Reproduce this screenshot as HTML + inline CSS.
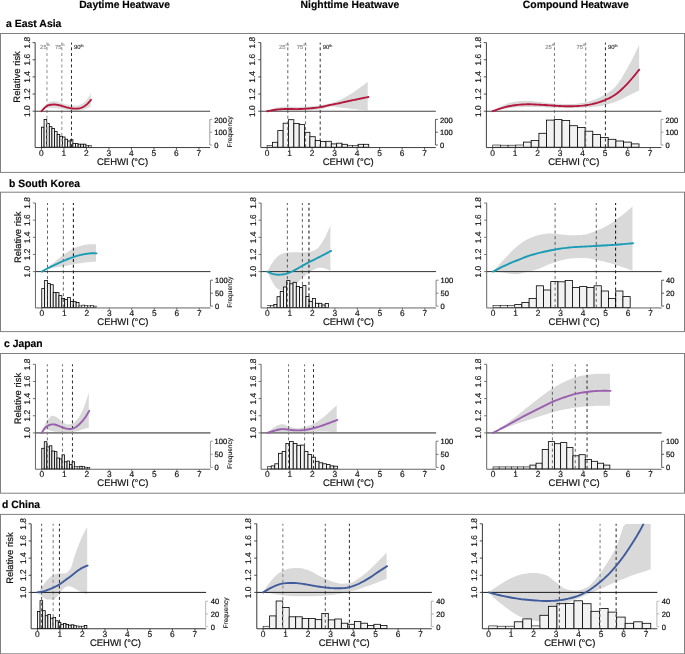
<!DOCTYPE html>
<html lang="en"><head><meta charset="utf-8"><title>Heatwave relative risk</title>
<style>html,body{margin:0;padding:0;background:#fff}svg{display:block}
.tk{font-size:84px;text-anchor:middle;fill:#111;stroke:#111;stroke-width:1.6px}
.fr{font-size:76px;fill:#111;stroke:#111;stroke-width:2.2px}
.al{font-size:96px;fill:#111;stroke:#111;stroke-width:2px}
.hd{font-size:106px;font-weight:bold;fill:#000;stroke:#000;stroke-width:1.5px}
</style>
</head><body>
<svg width="685" height="654" viewBox="0 0 685 654" font-family="'Liberation Sans', Arial, sans-serif" text-rendering="geometricPrecision">
<rect x="0" y="0" width="685" height="654" fill="#fff"/>
<text transform="translate(79.15,8.1) scale(.1)" class="hd" textLength="909" lengthAdjust="spacingAndGlyphs">Daytime Heatwave</text>
<text transform="translate(300.6,8.1) scale(.1)" class="hd" textLength="988" lengthAdjust="spacingAndGlyphs">Nighttime Heatwave</text>
<text transform="translate(522.8,8.1) scale(.1)" class="hd" textLength="1060" lengthAdjust="spacingAndGlyphs">Compound Heatwave</text>
<g id="row-a">
<text transform="translate(6.1,27.4) scale(.1)" class="hd" textLength="553" lengthAdjust="spacingAndGlyphs">a East Asia</text>
<rect x="0.5" y="33.5" width="684" height="138.9" fill="none" stroke="#808080" stroke-width="1"/>
<g id="p-a1">
<clipPath id="ca0"><rect x="35.15" y="42.6" width="175" height="104.95"/></clipPath>
<path d="M41.45,111.2 L42.29,109.67 L43.12,108.23 L43.96,106.92 L44.8,105.75 L45.63,104.76 L46.47,103.98 L47.3,103.38 L48.14,102.84 L48.98,102.35 L49.81,101.94 L50.65,101.61 L51.49,101.38 L52.32,101.27 L53.16,101.2 L53.99,101.15 L54.83,101.14 L55.67,101.21 L56.5,101.37 L57.34,101.59 L58.18,101.86 L59.01,102.15 L59.85,102.46 L60.69,102.75 L61.52,103.02 L62.36,103.27 L63.19,103.54 L64.03,103.82 L64.87,104.09 L65.7,104.34 L66.54,104.55 L67.38,104.73 L68.21,104.9 L69.05,105.05 L69.88,105.19 L70.72,105.29 L71.56,105.35 L72.39,105.4 L73.23,105.44 L74.07,105.48 L74.9,105.5 L75.74,105.51 L76.58,105.45 L77.41,105.32 L78.25,105.14 L79.08,104.91 L79.92,104.67 L80.76,104.37 L81.59,103.96 L82.43,103.45 L83.27,102.88 L84.1,102.24 L84.94,101.55 L85.77,100.71 L86.61,99.74 L87.45,98.68 L88.28,97.54 L89.12,96.25 L89.96,94.81 L90.79,93.25 L90.79,106.82 L89.96,107.23 L89.12,107.61 L88.28,107.98 L87.45,108.33 L86.61,108.67 L85.77,108.98 L84.94,109.28 L84.1,109.54 L83.27,109.81 L82.43,110.06 L81.59,110.29 L80.76,110.48 L79.92,110.61 L79.08,110.7 L78.25,110.79 L77.41,110.86 L76.58,110.91 L75.74,110.93 L74.9,110.93 L74.07,110.91 L73.23,110.87 L72.39,110.83 L71.56,110.78 L70.72,110.71 L69.88,110.61 L69.05,110.47 L68.21,110.31 L67.38,110.15 L66.54,109.99 L65.7,109.83 L64.87,109.65 L64.03,109.47 L63.19,109.3 L62.36,109.14 L61.52,109 L60.69,108.87 L59.85,108.75 L59.01,108.63 L58.18,108.52 L57.34,108.42 L56.5,108.32 L55.67,108.23 L54.83,108.16 L53.99,108.08 L53.16,108.01 L52.32,107.96 L51.49,107.96 L50.65,107.99 L49.81,108.03 L48.98,108.09 L48.14,108.16 L47.3,108.25 L46.47,108.35 L45.63,108.58 L44.8,108.94 L43.96,109.4 L43.12,109.95 L42.29,110.56 L41.45,111.2Z" fill="#dedede" clip-path="url(#ca0)"/>
<g fill="#f2f2f2" stroke="#000" stroke-width="0.8"><rect x="41.45" y="127.2" width="2.62" height="20"/><rect x="44.07" y="119.5" width="2.62" height="27.7"/><rect x="46.69" y="123.5" width="2.62" height="23.7"/><rect x="49.31" y="126.7" width="2.62" height="20.5"/><rect x="51.93" y="128.5" width="2.62" height="18.7"/><rect x="54.55" y="131.6" width="2.62" height="15.6"/><rect x="57.17" y="134.4" width="2.62" height="12.8"/><rect x="59.79" y="136.3" width="2.62" height="10.9"/><rect x="62.41" y="137" width="2.62" height="10.2"/><rect x="65.03" y="139.2" width="2.62" height="8"/><rect x="67.65" y="141" width="2.62" height="6.2"/><rect x="70.27" y="139.7" width="2.62" height="7.5"/><rect x="72.89" y="143.6" width="2.62" height="3.6"/><rect x="75.51" y="143.6" width="2.62" height="3.6"/><rect x="78.13" y="144.2" width="2.62" height="3"/><rect x="80.75" y="144.2" width="2.62" height="3"/><rect x="83.37" y="144.2" width="2.62" height="3"/></g>
<g fill="#f2f2f2" stroke="#111" stroke-width="0.6"><rect x="85.99" y="145.5" width="2.62" height="1.7"/><rect x="88.61" y="145.5" width="2.62" height="1.7"/></g>
<line x1="46.96" y1="42.6" x2="46.96" y2="147.55" stroke="#a0a0a0" stroke-width="1.2" stroke-dasharray="3 2.7" stroke-dashoffset="1"/>
<line x1="61.81" y1="42.6" x2="61.81" y2="147.55" stroke="#a0a0a0" stroke-width="1.2" stroke-dasharray="3 2.7" stroke-dashoffset="1"/>
<line x1="71.49" y1="42.6" x2="71.49" y2="147.55" stroke="#111" stroke-width="0.9" stroke-dasharray="3 2.7" stroke-dashoffset="1"/>
<text transform="translate(49.76,49.0) scale(.1)" font-size="59" fill="#888" stroke="#888" stroke-width="1.2" text-anchor="end">25<tspan font-size="37" dy="-26.0">th</tspan></text>
<text transform="translate(64.61,49.0) scale(.1)" font-size="59" fill="#888" stroke="#888" stroke-width="1.2" text-anchor="end">75<tspan font-size="37" dy="-26.0">th</tspan></text>
<text transform="translate(73.99,49.0) scale(.1)" font-size="59" fill="#222" stroke="#222" stroke-width="1.2" text-anchor="start">90<tspan font-size="37" dy="-17.0">th</tspan></text>
<line x1="35.15" y1="111.2" x2="210.15" y2="111.2" stroke="#444" stroke-width="1.05"/>
<path d="M41.45,111.2 L42.29,110.26 L43.13,109.35 L43.97,108.47 L44.81,107.65 L45.65,106.92 L46.49,106.3 L47.33,105.81 L48.16,105.44 L49,105.17 L49.84,104.96 L50.68,104.8 L51.52,104.68 L52.36,104.6 L53.2,104.55 L54.04,104.54 L54.88,104.56 L55.72,104.61 L56.56,104.7 L57.4,104.83 L58.24,105.01 L59.08,105.21 L59.92,105.44 L60.76,105.68 L61.59,105.93 L62.43,106.18 L63.27,106.44 L64.11,106.68 L64.95,106.92 L65.79,107.15 L66.63,107.37 L67.47,107.57 L68.31,107.76 L69.15,107.94 L69.99,108.1 L70.83,108.24 L71.67,108.36 L72.51,108.47 L73.35,108.56 L74.19,108.62 L75.02,108.65 L75.86,108.66 L76.7,108.64 L77.54,108.57 L78.38,108.47 L79.22,108.33 L80.06,108.13 L80.9,107.88 L81.74,107.58 L82.58,107.22 L83.42,106.79 L84.26,106.3 L85.1,105.74 L85.94,105.11 L86.78,104.4 L87.62,103.62 L88.45,102.75 L89.29,101.81 L90.13,100.83 L90.97,99.82" fill="none" stroke="#b5173f" stroke-width="1.9" stroke-linecap="round" stroke-linejoin="round" clip-path="url(#ca0)"/>
<path d="M35.15,42.6 V147.55 H210.15" fill="none" stroke="#2a2a2a" stroke-width="0.9"/>
<path d="M35.15,111.2 h-2.6 M35.15,94.05 h-2.6 M35.15,76.9 h-2.6 M35.15,59.75 h-2.6 M35.15,42.6 h-2.6 M41.45,147.55 v2.2 M63.95,147.55 v2.2 M86.45,147.55 v2.2 M108.95,147.55 v2.2 M131.45,147.55 v2.2 M153.95,147.55 v2.2 M176.45,147.55 v2.2 M198.95,147.55 v2.2" fill="none" stroke="#2a2a2a" stroke-width="0.8"/>
<text transform="translate(29.55,111.2) rotate(-90) scale(.1)" class="tk">1.0</text>
<text transform="translate(29.55,94.05) rotate(-90) scale(.1)" class="tk">1.2</text>
<text transform="translate(29.55,76.9) rotate(-90) scale(.1)" class="tk">1.4</text>
<text transform="translate(29.55,59.75) rotate(-90) scale(.1)" class="tk">1.6</text>
<text transform="translate(29.55,42.6) rotate(-90) scale(.1)" class="tk">1.8</text>
<text transform="translate(41.45,155.6) scale(.1)" class="tk">0</text>
<text transform="translate(63.95,155.6) scale(.1)" class="tk">1</text>
<text transform="translate(86.45,155.6) scale(.1)" class="tk">2</text>
<text transform="translate(108.95,155.6) scale(.1)" class="tk">3</text>
<text transform="translate(131.45,155.6) scale(.1)" class="tk">4</text>
<text transform="translate(153.95,155.6) scale(.1)" class="tk">5</text>
<text transform="translate(176.45,155.6) scale(.1)" class="tk">6</text>
<text transform="translate(198.95,155.6) scale(.1)" class="tk">7</text>
<text transform="translate(97.05,164.6) scale(.1)" class="al" textLength="510" lengthAdjust="spacingAndGlyphs">CEHWI (°C)</text>
<text transform="translate(20.25,76.9) rotate(-90) scale(.1)" class="al" style="font-size:94.5px" text-anchor="middle">Relative risk</text>
<text transform="translate(231.85,131.8) rotate(-90) scale(0.1)" font-size="66" text-anchor="middle" fill="#111" stroke="#111" stroke-width="1.2">Frequency</text>
<path d="M209.8,145 V119.4 M209.8,145 h2.4 M209.8,132.2 h2.4 M209.8,119.4 h2.4" fill="none" stroke="#888" stroke-width="0.8"/>
<text transform="translate(214.35,148.15) scale(.1)" class="fr">0</text>
<text transform="translate(214.35,135.35) scale(.1)" class="fr">100</text>
<text transform="translate(214.35,122.55) scale(.1)" class="fr">200</text>
</g>
<g id="p-a2">
<clipPath id="ca1"><rect x="260.8" y="42.6" width="175" height="104.95"/></clipPath>
<path d="M267.1,111.2 L268.81,110.43 L270.51,109.72 L272.22,109.09 L273.92,108.55 L275.63,108.05 L277.33,107.59 L279.04,107.22 L280.74,106.99 L282.45,106.86 L284.15,106.75 L285.86,106.68 L287.57,106.65 L289.27,106.66 L290.98,106.71 L292.68,106.77 L294.39,106.83 L296.09,106.87 L297.8,106.88 L299.5,106.87 L301.21,106.84 L302.91,106.81 L304.62,106.77 L306.32,106.71 L308.03,106.59 L309.74,106.43 L311.44,106.25 L313.15,106.08 L314.85,105.89 L316.56,105.67 L318.26,105.44 L319.97,105.19 L321.67,104.93 L323.38,104.65 L325.08,104.35 L326.79,104.02 L328.5,103.67 L330.2,103.28 L331.91,102.85 L333.61,102.37 L335.32,101.82 L337.02,101.23 L338.73,100.57 L340.43,99.85 L342.14,99.01 L343.84,98.08 L345.55,97.08 L347.25,96.05 L348.96,95.03 L350.67,93.97 L352.37,92.88 L354.08,91.75 L355.78,90.61 L357.49,89.44 L359.19,88.25 L360.9,87.03 L362.6,85.78 L364.31,84.51 L366.01,83.2 L367.72,81.87 L367.72,110.5 L366.01,110.35 L364.31,110.19 L362.6,110.03 L360.9,109.86 L359.19,109.68 L357.49,109.5 L355.78,109.31 L354.08,109.1 L352.37,108.89 L350.67,108.67 L348.96,108.47 L347.25,108.29 L345.55,108.12 L343.84,107.96 L342.14,107.8 L340.43,107.62 L338.73,107.42 L337.02,107.15 L335.32,106.86 L333.61,106.6 L331.91,106.42 L330.2,106.4 L328.5,106.73 L326.79,107.32 L325.08,108.03 L323.38,108.72 L321.67,109.25 L319.97,109.48 L318.26,109.58 L316.56,109.65 L314.85,109.71 L313.15,109.77 L311.44,109.83 L309.74,109.91 L308.03,110 L306.32,110.09 L304.62,110.17 L302.91,110.25 L301.21,110.31 L299.5,110.36 L297.8,110.38 L296.09,110.39 L294.39,110.39 L292.68,110.39 L290.98,110.39 L289.27,110.39 L287.57,110.39 L285.86,110.39 L284.15,110.39 L282.45,110.39 L280.74,110.39 L279.04,110.4 L277.33,110.46 L275.63,110.54 L273.92,110.64 L272.22,110.77 L270.51,110.91 L268.81,111.05 L267.1,111.2Z" fill="#d9d9d9" clip-path="url(#ca1)"/>
<g fill="#f2f2f2" stroke="#000" stroke-width="0.8"><rect x="272.45" y="142.3" width="5.35" height="4.9"/><rect x="277.8" y="130.6" width="5.35" height="16.6"/><rect x="283.15" y="123.2" width="5.35" height="24"/><rect x="288.5" y="119.7" width="5.35" height="27.5"/><rect x="293.85" y="123.5" width="5.35" height="23.7"/><rect x="299.2" y="124.4" width="5.35" height="22.8"/><rect x="304.55" y="132.3" width="5.35" height="14.9"/><rect x="309.9" y="136.7" width="5.35" height="10.5"/><rect x="315.25" y="140.5" width="5.35" height="6.7"/><rect x="320.6" y="141.6" width="5.35" height="5.6"/><rect x="325.95" y="141.3" width="5.35" height="5.9"/><rect x="331.3" y="143.9" width="5.35" height="3.3"/><rect x="336.65" y="143.2" width="5.35" height="4"/><rect x="342" y="144.3" width="5.35" height="2.9"/><rect x="358.05" y="144.3" width="5.35" height="2.9"/><rect x="363.4" y="144.3" width="5.35" height="2.9"/></g>
<g fill="#f2f2f2" stroke="#111" stroke-width="0.6"><rect x="267.1" y="145.6" width="5.35" height="1.6"/><rect x="347.35" y="145.4" width="5.35" height="1.8"/><rect x="352.7" y="145.4" width="5.35" height="1.8"/></g>
<line x1="287.8" y1="42.6" x2="287.8" y2="147.55" stroke="#555" stroke-width="0.9" stroke-dasharray="3 2.7" stroke-dashoffset="1"/>
<line x1="305.58" y1="42.6" x2="305.58" y2="147.55" stroke="#555" stroke-width="0.9" stroke-dasharray="3 2.7" stroke-dashoffset="1"/>
<line x1="320.2" y1="42.6" x2="320.2" y2="147.55" stroke="#333" stroke-width="1.0" stroke-dasharray="3 2.7" stroke-dashoffset="1"/>
<text transform="translate(288.7,49.0) scale(.1)" font-size="59" fill="#888" stroke="#888" stroke-width="1.2" text-anchor="end">25<tspan font-size="37" dy="-26.0">th</tspan></text>
<text transform="translate(306.48,49.0) scale(.1)" font-size="59" fill="#888" stroke="#888" stroke-width="1.2" text-anchor="end">75<tspan font-size="37" dy="-26.0">th</tspan></text>
<text transform="translate(322.7,49.0) scale(.1)" font-size="59" fill="#222" stroke="#222" stroke-width="1.2" text-anchor="start">90<tspan font-size="37" dy="-17.0">th</tspan></text>
<line x1="260.8" y1="111.2" x2="435.8" y2="111.2" stroke="#444" stroke-width="1.05"/>
<path d="M267.1,111.2 L268.82,110.88 L270.53,110.56 L272.25,110.26 L273.97,109.99 L275.69,109.74 L277.4,109.52 L279.12,109.34 L280.84,109.2 L282.56,109.09 L284.27,109.02 L285.99,108.99 L287.71,108.98 L289.42,109 L291.14,109.03 L292.86,109.06 L294.58,109.09 L296.29,109.1 L298.01,109.09 L299.73,109.04 L301.44,108.97 L303.16,108.88 L304.88,108.77 L306.6,108.65 L308.31,108.51 L310.03,108.37 L311.75,108.21 L313.47,108.04 L315.18,107.85 L316.9,107.64 L318.62,107.4 L320.33,107.12 L322.05,106.8 L323.77,106.45 L325.49,106.07 L327.2,105.68 L328.92,105.3 L330.64,104.92 L332.36,104.57 L334.07,104.23 L335.79,103.9 L337.51,103.56 L339.22,103.21 L340.94,102.83 L342.66,102.43 L344.38,102.03 L346.09,101.62 L347.81,101.24 L349.53,100.87 L351.25,100.52 L352.96,100.19 L354.68,99.86 L356.4,99.51 L358.11,99.16 L359.83,98.78 L361.55,98.41 L363.27,98.04 L364.98,97.69 L366.7,97.35 L368.42,97.02" fill="none" stroke="#b5173f" stroke-width="1.9" stroke-linecap="round" stroke-linejoin="round" clip-path="url(#ca1)"/>
<path d="M260.8,42.6 V147.55 H435.8" fill="none" stroke="#2a2a2a" stroke-width="0.9"/>
<path d="M260.8,111.2 h-2.6 M260.8,94.05 h-2.6 M260.8,76.9 h-2.6 M260.8,59.75 h-2.6 M260.8,42.6 h-2.6 M267.1,147.55 v2.2 M289.6,147.55 v2.2 M312.1,147.55 v2.2 M334.6,147.55 v2.2 M357.1,147.55 v2.2 M379.6,147.55 v2.2 M402.1,147.55 v2.2 M424.6,147.55 v2.2" fill="none" stroke="#2a2a2a" stroke-width="0.8"/>
<text transform="translate(255.2,111.2) rotate(-90) scale(.1)" class="tk">1.0</text>
<text transform="translate(255.2,94.05) rotate(-90) scale(.1)" class="tk">1.2</text>
<text transform="translate(255.2,76.9) rotate(-90) scale(.1)" class="tk">1.4</text>
<text transform="translate(255.2,59.75) rotate(-90) scale(.1)" class="tk">1.6</text>
<text transform="translate(255.2,42.6) rotate(-90) scale(.1)" class="tk">1.8</text>
<text transform="translate(267.1,155.6) scale(.1)" class="tk">0</text>
<text transform="translate(289.6,155.6) scale(.1)" class="tk">1</text>
<text transform="translate(312.1,155.6) scale(.1)" class="tk">2</text>
<text transform="translate(334.6,155.6) scale(.1)" class="tk">3</text>
<text transform="translate(357.1,155.6) scale(.1)" class="tk">4</text>
<text transform="translate(379.6,155.6) scale(.1)" class="tk">5</text>
<text transform="translate(402.1,155.6) scale(.1)" class="tk">6</text>
<text transform="translate(424.6,155.6) scale(.1)" class="tk">7</text>
<text transform="translate(322.7,164.6) scale(.1)" class="al" textLength="510" lengthAdjust="spacingAndGlyphs">CEHWI (°C)</text>
<path d="M435.45,145 V119.4 M435.45,145 h2.4 M435.45,132.2 h2.4 M435.45,119.4 h2.4" fill="none" stroke="#333" stroke-width="0.8"/>
<text transform="translate(440.1,148.15) scale(.1)" class="fr">0</text>
<text transform="translate(440.1,135.35) scale(.1)" class="fr">100</text>
<text transform="translate(440.1,122.55) scale(.1)" class="fr">200</text>
</g>
<g id="p-a3">
<clipPath id="ca2"><rect x="486.4" y="42.6" width="175" height="104.95"/></clipPath>
<path d="M492.7,111.2 L495.18,109.62 L497.67,108.14 L500.15,106.78 L502.63,105.55 L505.11,104.46 L507.6,103.52 L510.08,102.75 L512.56,102.16 L515.04,101.76 L517.53,101.47 L520.01,101.21 L522.49,101.02 L524.97,100.92 L527.46,100.93 L529.94,101.06 L532.42,101.26 L534.9,101.5 L537.39,101.74 L539.87,101.98 L542.35,102.27 L544.84,102.59 L547.32,102.9 L549.8,103.19 L552.28,103.43 L554.77,103.58 L557.25,103.7 L559.73,103.81 L562.21,103.91 L564.7,103.99 L567.18,104.05 L569.66,104.08 L572.14,104.06 L574.63,103.92 L577.11,103.67 L579.59,103.33 L582.07,102.93 L584.56,102.49 L587.04,102.02 L589.52,101.36 L592.01,100.55 L594.49,99.63 L596.97,98.65 L599.45,97.58 L601.94,96.37 L604.42,94.99 L606.9,93.47 L609.38,91.79 L611.87,89.89 L614.35,87.69 L616.83,85.07 L619.31,81.74 L621.8,77.84 L624.28,73.59 L626.76,69.2 L629.24,64.8 L631.73,60.14 L634.21,55.24 L636.69,50.1 L639.17,44.74 L639.17,90.45 L636.69,91.63 L634.21,92.82 L631.73,94.01 L629.24,95.2 L626.76,96.39 L624.28,97.65 L621.8,98.93 L619.31,100.16 L616.83,101.26 L614.35,102.2 L611.87,103.05 L609.38,103.81 L606.9,104.49 L604.42,105.09 L601.94,105.64 L599.45,106.13 L596.97,106.5 L594.49,106.79 L592.01,107.05 L589.52,107.27 L587.04,107.44 L584.56,107.57 L582.07,107.7 L579.59,107.81 L577.11,107.91 L574.63,107.98 L572.14,108.02 L569.66,108.03 L567.18,108.01 L564.7,107.98 L562.21,107.94 L559.73,107.89 L557.25,107.83 L554.77,107.78 L552.28,107.7 L549.8,107.57 L547.32,107.41 L544.84,107.26 L542.35,107.12 L539.87,107.03 L537.39,107 L534.9,107 L532.42,107 L529.94,107 L527.46,107 L524.97,107 L522.49,107.07 L520.01,107.19 L517.53,107.34 L515.04,107.51 L512.56,107.71 L510.08,107.97 L507.6,108.28 L505.11,108.65 L502.63,109.08 L500.15,109.54 L497.67,110.06 L495.18,110.61 L492.7,111.2Z" fill="#d9d9d9" clip-path="url(#ca2)"/>
<g fill="#f2f2f2" stroke="#000" stroke-width="0.8"><rect x="523.5" y="142.1" width="7.7" height="5.1"/><rect x="531.2" y="140.4" width="7.7" height="6.8"/><rect x="538.9" y="133.3" width="7.7" height="13.9"/><rect x="546.6" y="120.1" width="7.7" height="27.1"/><rect x="554.3" y="119.6" width="7.7" height="27.6"/><rect x="562" y="120.4" width="7.7" height="26.8"/><rect x="569.7" y="125.7" width="7.7" height="21.5"/><rect x="577.4" y="127.5" width="7.7" height="19.7"/><rect x="585.1" y="131.2" width="7.7" height="16"/><rect x="592.8" y="134.6" width="7.7" height="12.6"/><rect x="600.5" y="137.5" width="7.7" height="9.7"/><rect x="608.2" y="139.3" width="7.7" height="7.9"/><rect x="615.9" y="141" width="7.7" height="6.2"/><rect x="623.6" y="142.1" width="7.7" height="5.1"/><rect x="631.3" y="143.9" width="7.7" height="3.3"/></g>
<g fill="#f2f2f2" stroke="#111" stroke-width="0.6"><rect x="492.7" y="145" width="7.7" height="2.2"/><rect x="500.4" y="145.2" width="7.7" height="2"/><rect x="508.1" y="145.2" width="7.7" height="2"/><rect x="515.8" y="145" width="7.7" height="2.2"/></g>
<line x1="554.46" y1="42.6" x2="554.46" y2="147.55" stroke="#444" stroke-width="0.7" stroke-dasharray="3 2.7" stroke-dashoffset="1"/>
<line x1="585.74" y1="42.6" x2="585.74" y2="147.55" stroke="#444" stroke-width="0.7" stroke-dasharray="3 2.7" stroke-dashoffset="1"/>
<line x1="605.42" y1="42.6" x2="605.42" y2="147.55" stroke="#111" stroke-width="0.9" stroke-dasharray="3 2.7" stroke-dashoffset="1"/>
<text transform="translate(554.86,49.0) scale(.1)" font-size="59" fill="#888" stroke="#888" stroke-width="1.2" text-anchor="end">25<tspan font-size="37" dy="-26.0">th</tspan></text>
<text transform="translate(586.14,49.0) scale(.1)" font-size="59" fill="#888" stroke="#888" stroke-width="1.2" text-anchor="end">75<tspan font-size="37" dy="-26.0">th</tspan></text>
<text transform="translate(607.92,49.0) scale(.1)" font-size="59" fill="#222" stroke="#222" stroke-width="1.2" text-anchor="start">90<tspan font-size="37" dy="-17.0">th</tspan></text>
<line x1="486.4" y1="111.2" x2="661.4" y2="111.2" stroke="#444" stroke-width="1.05"/>
<path d="M492.7,111.2 L495.18,110.31 L497.67,109.43 L500.15,108.6 L502.63,107.83 L505.11,107.14 L507.6,106.53 L510.08,106.01 L512.56,105.56 L515.04,105.19 L517.53,104.89 L520.01,104.65 L522.49,104.48 L524.97,104.37 L527.46,104.32 L529.94,104.32 L532.42,104.37 L534.9,104.46 L537.39,104.58 L539.87,104.72 L542.35,104.88 L544.84,105.05 L547.32,105.23 L549.8,105.4 L552.28,105.57 L554.77,105.73 L557.25,105.87 L559.73,106 L562.21,106.1 L564.7,106.18 L567.18,106.22 L569.66,106.23 L572.14,106.21 L574.63,106.14 L577.11,106.03 L579.59,105.86 L582.07,105.64 L584.56,105.36 L587.04,105 L589.52,104.58 L592.01,104.08 L594.49,103.5 L596.97,102.83 L599.45,102.08 L601.94,101.24 L604.42,100.29 L606.9,99.24 L609.38,98.07 L611.87,96.73 L614.35,95.21 L616.83,93.46 L619.31,91.49 L621.8,89.3 L624.28,86.91 L626.76,84.34 L629.24,81.62 L631.73,78.75 L634.21,75.79 L636.69,72.76 L639.17,69.7" fill="none" stroke="#b5173f" stroke-width="1.9" stroke-linecap="round" stroke-linejoin="round" clip-path="url(#ca2)"/>
<path d="M486.4,42.6 V147.55 H661.4" fill="none" stroke="#2a2a2a" stroke-width="0.9"/>
<path d="M486.4,111.2 h-2.6 M486.4,94.05 h-2.6 M486.4,76.9 h-2.6 M486.4,59.75 h-2.6 M486.4,42.6 h-2.6 M492.7,147.55 v2.2 M515.2,147.55 v2.2 M537.7,147.55 v2.2 M560.2,147.55 v2.2 M582.7,147.55 v2.2 M605.2,147.55 v2.2 M627.7,147.55 v2.2 M650.2,147.55 v2.2" fill="none" stroke="#2a2a2a" stroke-width="0.8"/>
<text transform="translate(480.8,111.2) rotate(-90) scale(.1)" class="tk">1.0</text>
<text transform="translate(480.8,94.05) rotate(-90) scale(.1)" class="tk">1.2</text>
<text transform="translate(480.8,76.9) rotate(-90) scale(.1)" class="tk">1.4</text>
<text transform="translate(480.8,59.75) rotate(-90) scale(.1)" class="tk">1.6</text>
<text transform="translate(480.8,42.6) rotate(-90) scale(.1)" class="tk">1.8</text>
<text transform="translate(492.7,155.6) scale(.1)" class="tk">0</text>
<text transform="translate(515.2,155.6) scale(.1)" class="tk">1</text>
<text transform="translate(537.7,155.6) scale(.1)" class="tk">2</text>
<text transform="translate(560.2,155.6) scale(.1)" class="tk">3</text>
<text transform="translate(582.7,155.6) scale(.1)" class="tk">4</text>
<text transform="translate(605.2,155.6) scale(.1)" class="tk">5</text>
<text transform="translate(627.7,155.6) scale(.1)" class="tk">6</text>
<text transform="translate(650.2,155.6) scale(.1)" class="tk">7</text>
<text transform="translate(548.3,164.6) scale(.1)" class="al" textLength="510" lengthAdjust="spacingAndGlyphs">CEHWI (°C)</text>
<path d="M661.05,145 V119.4 M661.05,145 h2.4 M661.05,132.2 h2.4 M661.05,119.4 h2.4" fill="none" stroke="#888" stroke-width="0.8"/>
<text transform="translate(665.6,148.15) scale(.1)" class="fr">0</text>
<text transform="translate(665.6,135.35) scale(.1)" class="fr">100</text>
<text transform="translate(665.6,122.55) scale(.1)" class="fr">200</text>
</g>
</g>
<g id="row-b">
<text transform="translate(9.05,186.6) scale(.1)" class="hd" textLength="710" lengthAdjust="spacingAndGlyphs">b South Korea</text>
<rect x="0.5" y="192.2" width="684" height="139.4" fill="none" stroke="#808080" stroke-width="1"/>
<g id="p-b1">
<clipPath id="cb0"><rect x="35.45" y="203" width="175" height="104.95"/></clipPath>
<path d="M41.75,271.6 L42.67,270.96 L43.59,270.31 L44.51,269.65 L45.43,268.99 L46.35,268.31 L47.26,267.63 L48.18,266.94 L49.1,266.25 L50.02,265.54 L50.94,264.83 L51.86,264.11 L52.78,263.39 L53.7,262.66 L54.62,261.94 L55.54,261.21 L56.46,260.46 L57.37,259.7 L58.29,258.92 L59.21,258.14 L60.13,257.38 L61.05,256.62 L61.97,255.9 L62.89,255.21 L63.81,254.56 L64.73,253.92 L65.65,253.29 L66.56,252.67 L67.48,252.06 L68.4,251.47 L69.32,250.91 L70.24,250.36 L71.16,249.84 L72.08,249.35 L73,248.89 L73.92,248.46 L74.84,248.03 L75.76,247.62 L76.67,247.22 L77.59,246.84 L78.51,246.49 L79.43,246.16 L80.35,245.88 L81.27,245.63 L82.19,245.42 L83.11,245.23 L84.03,245.04 L84.95,244.87 L85.87,244.72 L86.78,244.59 L87.7,244.49 L88.62,244.42 L89.54,244.37 L90.46,244.32 L91.38,244.28 L92.3,244.24 L93.22,244.2 L94.14,244.18 L95.06,244.17 L95.97,244.16 L95.97,261.57 L95.06,261.63 L94.14,261.69 L93.22,261.76 L92.3,261.84 L91.38,261.92 L90.46,262 L89.54,262.08 L88.62,262.17 L87.7,262.27 L86.78,262.37 L85.87,262.48 L84.95,262.6 L84.03,262.72 L83.11,262.84 L82.19,262.96 L81.27,263.08 L80.35,263.2 L79.43,263.32 L78.51,263.45 L77.59,263.58 L76.67,263.71 L75.76,263.84 L74.84,263.99 L73.92,264.14 L73,264.29 L72.08,264.47 L71.16,264.66 L70.24,264.87 L69.32,265.08 L68.4,265.29 L67.48,265.51 L66.56,265.72 L65.65,265.92 L64.73,266.11 L63.81,266.29 L62.89,266.44 L61.97,266.58 L61.05,266.71 L60.13,266.82 L59.21,266.94 L58.29,267.06 L57.37,267.18 L56.46,267.31 L55.54,267.46 L54.62,267.63 L53.7,267.81 L52.78,268 L51.86,268.21 L50.94,268.42 L50.02,268.66 L49.1,268.9 L48.18,269.16 L47.26,269.43 L46.35,269.73 L45.43,270.06 L44.51,270.41 L43.59,270.79 L42.67,271.19 L41.75,271.6Z" fill="#d9d9d9" clip-path="url(#cb0)"/>
<g fill="#f2f2f2" stroke="#000" stroke-width="0.8"><rect x="41.75" y="288.6" width="2.87" height="19"/><rect x="44.62" y="280.4" width="2.87" height="27.2"/><rect x="47.48" y="283.6" width="2.87" height="24"/><rect x="50.35" y="284.7" width="2.87" height="22.9"/><rect x="53.22" y="292.4" width="2.87" height="15.2"/><rect x="56.09" y="292.6" width="2.87" height="15"/><rect x="58.95" y="295.6" width="2.87" height="12"/><rect x="61.82" y="298.5" width="2.87" height="9.1"/><rect x="64.69" y="299.6" width="2.87" height="8"/><rect x="67.55" y="297.6" width="2.87" height="10"/><rect x="70.42" y="301.6" width="2.87" height="6"/><rect x="73.29" y="301.7" width="2.87" height="5.9"/><rect x="76.15" y="302.4" width="2.87" height="5.2"/></g>
<g fill="#f2f2f2" stroke="#111" stroke-width="0.6"><rect x="79.02" y="305.9" width="2.87" height="1.7"/><rect x="81.89" y="305.1" width="2.87" height="2.5"/><rect x="84.75" y="305.5" width="2.87" height="2.1"/><rect x="87.62" y="305.9" width="2.87" height="1.7"/><rect x="90.49" y="305.5" width="2.87" height="2.1"/><rect x="93.36" y="306.1" width="2.87" height="1.5"/></g>
<line x1="47.47" y1="203" x2="47.47" y2="307.95" stroke="#3a3a3a" stroke-width="0.8" stroke-dasharray="3 2.7" stroke-dashoffset="1"/>
<line x1="63.35" y1="203" x2="63.35" y2="307.95" stroke="#3a3a3a" stroke-width="0.8" stroke-dasharray="3 2.7" stroke-dashoffset="1"/>
<line x1="73.38" y1="203" x2="73.38" y2="307.95" stroke="#000" stroke-width="0.95" stroke-dasharray="3 2.7" stroke-dashoffset="1"/>
<line x1="35.45" y1="271.6" x2="210.45" y2="271.6" stroke="#2a2a2a" stroke-width="0.95"/>
<path d="M41.75,271.6 L42.68,271.07 L43.61,270.55 L44.53,270.02 L45.46,269.51 L46.39,269 L47.32,268.5 L48.25,268.02 L49.18,267.55 L50.1,267.08 L51.03,266.63 L51.96,266.18 L52.89,265.74 L53.82,265.31 L54.75,264.88 L55.67,264.45 L56.6,264.02 L57.53,263.59 L58.46,263.16 L59.39,262.74 L60.31,262.32 L61.24,261.9 L62.17,261.49 L63.1,261.08 L64.03,260.67 L64.96,260.27 L65.88,259.88 L66.81,259.5 L67.74,259.12 L68.67,258.75 L69.6,258.39 L70.52,258.04 L71.45,257.7 L72.38,257.37 L73.31,257.05 L74.24,256.74 L75.17,256.45 L76.09,256.16 L77.02,255.89 L77.95,255.64 L78.88,255.39 L79.81,255.15 L80.74,254.93 L81.66,254.71 L82.59,254.51 L83.52,254.32 L84.45,254.14 L85.38,253.97 L86.3,253.82 L87.23,253.69 L88.16,253.57 L89.09,253.46 L90.02,253.38 L90.95,253.31 L91.87,253.27 L92.8,253.25 L93.73,253.26 L94.66,253.28 L95.59,253.33 L96.52,253.38" fill="none" stroke="#1b9cb5" stroke-width="1.9" stroke-linecap="round" stroke-linejoin="round" clip-path="url(#cb0)"/>
<path d="M35.45,203 V307.95 H210.45" fill="none" stroke="#555" stroke-width="0.9"/>
<path d="M35.45,271.6 h-2.6 M35.45,254.45 h-2.6 M35.45,237.3 h-2.6 M35.45,220.15 h-2.6 M35.45,203 h-2.6 M41.75,307.95 v2.2 M64.25,307.95 v2.2 M86.75,307.95 v2.2 M109.25,307.95 v2.2 M131.75,307.95 v2.2 M154.25,307.95 v2.2 M176.75,307.95 v2.2 M199.25,307.95 v2.2" fill="none" stroke="#555" stroke-width="0.8"/>
<text transform="translate(29.85,271.6) rotate(-90) scale(.1)" class="tk">1.0</text>
<text transform="translate(29.85,254.45) rotate(-90) scale(.1)" class="tk">1.2</text>
<text transform="translate(29.85,237.3) rotate(-90) scale(.1)" class="tk">1.4</text>
<text transform="translate(29.85,220.15) rotate(-90) scale(.1)" class="tk">1.6</text>
<text transform="translate(29.85,203) rotate(-90) scale(.1)" class="tk">1.8</text>
<text transform="translate(41.75,316) scale(.1)" class="tk">0</text>
<text transform="translate(64.25,316) scale(.1)" class="tk">1</text>
<text transform="translate(86.75,316) scale(.1)" class="tk">2</text>
<text transform="translate(109.25,316) scale(.1)" class="tk">3</text>
<text transform="translate(131.75,316) scale(.1)" class="tk">4</text>
<text transform="translate(154.25,316) scale(.1)" class="tk">5</text>
<text transform="translate(176.75,316) scale(.1)" class="tk">6</text>
<text transform="translate(199.25,316) scale(.1)" class="tk">7</text>
<text transform="translate(97.35,325) scale(.1)" class="al" textLength="510" lengthAdjust="spacingAndGlyphs">CEHWI (°C)</text>
<text transform="translate(20.55,237.3) rotate(-90) scale(.1)" class="al" style="font-size:94.5px" text-anchor="middle">Relative risk</text>
<text transform="translate(232.15,292.2) rotate(-90) scale(0.1)" font-size="66" text-anchor="middle" fill="#111" stroke="#111" stroke-width="1.2">Frequency</text>
<path d="M210.45,306.1 V280.2 M210.45,306.1 h2.4 M210.45,293.2 h2.4 M210.45,280.2 h2.4" fill="none" stroke="#444" stroke-width="0.8"/>
<text transform="translate(214.95,309.1) scale(.1)" class="fr">0</text>
<text transform="translate(214.95,296.2) scale(.1)" class="fr">50</text>
<text transform="translate(214.95,283.2) scale(.1)" class="fr">100</text>
</g>
<g id="p-b2">
<clipPath id="cb1"><rect x="261.1" y="203" width="175" height="104.95"/></clipPath>
<path d="M267.4,271.6 L268.47,269.46 L269.54,267.43 L270.6,265.54 L271.67,263.81 L272.74,262.28 L273.81,260.82 L274.87,259.41 L275.94,258.11 L277.01,256.95 L278.08,255.98 L279.15,255.26 L280.21,254.66 L281.28,254.11 L282.35,253.63 L283.42,253.23 L284.48,252.93 L285.55,252.74 L286.62,252.64 L287.69,252.54 L288.76,252.46 L289.82,252.39 L290.89,252.34 L291.96,252.32 L293.03,252.31 L294.09,252.31 L295.16,252.31 L296.23,252.31 L297.3,252.31 L298.37,252.31 L299.43,252.31 L300.5,252.31 L301.57,252.31 L302.64,252.31 L303.71,252.28 L304.77,252.24 L305.84,252.17 L306.91,252.08 L307.98,251.98 L309.04,251.87 L310.11,251.7 L311.18,251.45 L312.25,251.12 L313.32,250.71 L314.38,250.25 L315.45,249.72 L316.52,249.13 L317.59,248.3 L318.65,247.19 L319.72,245.86 L320.79,244.36 L321.86,242.73 L322.93,241.04 L323.99,239.31 L325.06,237.41 L326.13,235.31 L327.2,233.03 L328.26,230.59 L329.33,228 L330.4,225.3 L330.4,270.87 L329.33,270.31 L328.26,269.79 L327.2,269.34 L326.13,268.96 L325.06,268.6 L323.99,268.25 L322.93,267.95 L321.86,267.74 L320.79,267.66 L319.72,267.71 L318.65,267.86 L317.59,268.09 L316.52,268.35 L315.45,268.67 L314.38,269.15 L313.32,269.76 L312.25,270.46 L311.18,271.22 L310.11,271.99 L309.04,272.74 L307.98,273.48 L306.91,274.27 L305.84,275.09 L304.77,275.93 L303.71,276.79 L302.64,277.66 L301.57,278.56 L300.5,279.56 L299.43,280.63 L298.37,281.75 L297.3,282.88 L296.23,283.99 L295.16,285.07 L294.09,286.07 L293.03,286.97 L291.96,287.74 L290.89,288.35 L289.82,288.77 L288.76,289.1 L287.69,289.42 L286.62,289.7 L285.55,289.96 L284.48,290.17 L283.42,290.33 L282.35,290.43 L281.28,290.46 L280.21,290.25 L279.15,289.72 L278.08,289 L277.01,288.19 L275.94,287.22 L274.87,285.89 L273.81,284.31 L272.74,282.61 L271.67,280.81 L270.6,278.79 L269.54,276.57 L268.47,274.17 L267.4,271.6Z" fill="#d9d9d9" clip-path="url(#cb1)"/>
<g fill="#f2f2f2" stroke="#000" stroke-width="0.8"><rect x="273.82" y="304.4" width="3.21" height="3.2"/><rect x="277.03" y="296.7" width="3.21" height="10.9"/><rect x="280.24" y="291.4" width="3.21" height="16.2"/><rect x="283.45" y="287" width="3.21" height="20.6"/><rect x="286.66" y="280.6" width="3.21" height="27"/><rect x="289.87" y="283.8" width="3.21" height="23.8"/><rect x="293.08" y="282.3" width="3.21" height="25.3"/><rect x="296.29" y="286.4" width="3.21" height="21.2"/><rect x="299.5" y="287.6" width="3.21" height="20"/><rect x="302.71" y="285.6" width="3.21" height="22"/><rect x="305.92" y="296.5" width="3.21" height="11.1"/><rect x="309.13" y="301.6" width="3.21" height="6"/><rect x="312.34" y="298.5" width="3.21" height="9.1"/><rect x="315.55" y="303.3" width="3.21" height="4.3"/><rect x="318.76" y="303.3" width="3.21" height="4.3"/><rect x="321.97" y="305" width="3.21" height="2.6"/><rect x="325.18" y="303.4" width="3.21" height="4.2"/></g>
<g fill="#f2f2f2" stroke="#111" stroke-width="0.6"><rect x="267.4" y="305.7" width="3.21" height="1.9"/><rect x="270.61" y="305.3" width="3.21" height="2.3"/></g>
<line x1="287.36" y1="203" x2="287.36" y2="307.95" stroke="#3a3a3a" stroke-width="0.8" stroke-dasharray="3 2.7" stroke-dashoffset="1"/>
<line x1="302.39" y1="203" x2="302.39" y2="307.95" stroke="#3a3a3a" stroke-width="0.8" stroke-dasharray="3 2.7" stroke-dashoffset="1"/>
<line x1="308.96" y1="203" x2="308.96" y2="307.95" stroke="#000" stroke-width="0.95" stroke-dasharray="3 2.7" stroke-dashoffset="1"/>
<line x1="261.1" y1="271.6" x2="436.1" y2="271.6" stroke="#2a2a2a" stroke-width="0.95"/>
<path d="M267.4,271.6 L268.48,272.13 L269.56,272.65 L270.64,273.13 L271.72,273.56 L272.8,273.92 L273.88,274.2 L274.95,274.41 L276.03,274.56 L277.11,274.65 L278.19,274.69 L279.27,274.68 L280.35,274.64 L281.43,274.56 L282.51,274.44 L283.59,274.27 L284.67,274.06 L285.75,273.8 L286.83,273.49 L287.91,273.14 L288.98,272.74 L290.06,272.31 L291.14,271.84 L292.22,271.34 L293.3,270.81 L294.38,270.25 L295.46,269.68 L296.54,269.09 L297.62,268.48 L298.7,267.87 L299.78,267.25 L300.86,266.64 L301.94,266.02 L303.01,265.42 L304.09,264.82 L305.17,264.24 L306.25,263.66 L307.33,263.09 L308.41,262.53 L309.49,261.98 L310.57,261.43 L311.65,260.89 L312.73,260.35 L313.81,259.82 L314.89,259.28 L315.97,258.75 L317.04,258.21 L318.12,257.67 L319.2,257.12 L320.28,256.57 L321.36,256.02 L322.44,255.45 L323.52,254.89 L324.6,254.32 L325.68,253.74 L326.76,253.17 L327.84,252.59 L328.92,252.01 L330,251.43 L331.08,250.85" fill="none" stroke="#1b9cb5" stroke-width="1.9" stroke-linecap="round" stroke-linejoin="round" clip-path="url(#cb1)"/>
<path d="M261.1,203 V307.95 H436.1" fill="none" stroke="#555" stroke-width="0.9"/>
<path d="M261.1,271.6 h-2.6 M261.1,254.45 h-2.6 M261.1,237.3 h-2.6 M261.1,220.15 h-2.6 M261.1,203 h-2.6 M267.4,307.95 v2.2 M289.9,307.95 v2.2 M312.4,307.95 v2.2 M334.9,307.95 v2.2 M357.4,307.95 v2.2 M379.9,307.95 v2.2 M402.4,307.95 v2.2 M424.9,307.95 v2.2" fill="none" stroke="#555" stroke-width="0.8"/>
<text transform="translate(255.5,271.6) rotate(-90) scale(.1)" class="tk">1.0</text>
<text transform="translate(255.5,254.45) rotate(-90) scale(.1)" class="tk">1.2</text>
<text transform="translate(255.5,237.3) rotate(-90) scale(.1)" class="tk">1.4</text>
<text transform="translate(255.5,220.15) rotate(-90) scale(.1)" class="tk">1.6</text>
<text transform="translate(255.5,203) rotate(-90) scale(.1)" class="tk">1.8</text>
<text transform="translate(267.4,316) scale(.1)" class="tk">0</text>
<text transform="translate(289.9,316) scale(.1)" class="tk">1</text>
<text transform="translate(312.4,316) scale(.1)" class="tk">2</text>
<text transform="translate(334.9,316) scale(.1)" class="tk">3</text>
<text transform="translate(357.4,316) scale(.1)" class="tk">4</text>
<text transform="translate(379.9,316) scale(.1)" class="tk">5</text>
<text transform="translate(402.4,316) scale(.1)" class="tk">6</text>
<text transform="translate(424.9,316) scale(.1)" class="tk">7</text>
<text transform="translate(323,325) scale(.1)" class="al" textLength="510" lengthAdjust="spacingAndGlyphs">CEHWI (°C)</text>
<path d="M436.1,306.1 V280.2 M436.1,306.1 h2.4 M436.1,293.2 h2.4 M436.1,280.2 h2.4" fill="none" stroke="#666" stroke-width="0.8"/>
<text transform="translate(440.5,309.1) scale(.1)" class="fr">0</text>
<text transform="translate(440.5,296.2) scale(.1)" class="fr">50</text>
<text transform="translate(440.5,283.2) scale(.1)" class="fr">100</text>
</g>
<g id="p-b3">
<clipPath id="cb2"><rect x="486.7" y="203" width="175" height="104.95"/></clipPath>
<path d="M493,271.6 L495.36,268.87 L497.73,266.2 L500.09,263.58 L502.46,261.01 L504.82,258.49 L507.19,255.99 L509.55,253.51 L511.92,251.11 L514.28,248.87 L516.64,246.81 L519.01,244.82 L521.37,242.94 L523.74,241.28 L526.1,239.91 L528.47,238.75 L530.83,237.69 L533.19,236.76 L535.56,235.97 L537.92,235.34 L540.29,234.82 L542.65,234.31 L545.02,233.9 L547.38,233.62 L549.75,233.53 L552.11,233.6 L554.47,233.76 L556.84,233.96 L559.2,234.19 L561.57,234.4 L563.93,234.7 L566.3,235.02 L568.66,235.26 L571.03,235.33 L573.39,235.3 L575.75,235.22 L578.12,235.12 L580.48,234.98 L582.85,234.82 L585.21,234.52 L587.58,233.97 L589.94,233.23 L592.31,232.37 L594.67,231.47 L597.03,230.58 L599.4,229.61 L601.76,228.53 L604.13,227.35 L606.49,226.09 L608.86,224.73 L611.22,223.22 L613.58,221.59 L615.95,219.87 L618.31,218.1 L620.68,216.3 L623.04,214.46 L625.41,212.55 L627.77,210.57 L630.14,208.53 L632.5,206.43 L632.5,270.83 L630.14,269.87 L627.77,268.95 L625.41,268.06 L623.04,267.21 L620.68,266.4 L618.31,265.63 L615.95,264.89 L613.58,264.18 L611.22,263.5 L608.86,262.84 L606.49,262.21 L604.13,261.58 L601.76,260.97 L599.4,260.4 L597.03,259.9 L594.67,259.48 L592.31,259.04 L589.94,258.62 L587.58,258.28 L585.21,258.05 L582.85,257.97 L580.48,257.99 L578.12,258.06 L575.75,258.16 L573.39,258.29 L571.03,258.45 L568.66,258.69 L566.3,259.11 L563.93,259.66 L561.57,260.26 L559.2,260.88 L556.84,261.6 L554.47,262.4 L552.11,263.25 L549.75,264.12 L547.38,265.06 L545.02,266.1 L542.65,267.17 L540.29,268.18 L537.92,269.05 L535.56,269.81 L533.19,270.52 L530.83,271.17 L528.47,271.77 L526.1,272.32 L523.74,272.86 L521.37,273.43 L519.01,273.91 L516.64,274.21 L514.28,274.23 L511.92,274.01 L509.55,273.64 L507.19,273.23 L504.82,272.88 L502.46,272.61 L500.09,272.34 L497.73,272.08 L495.36,271.84 L493,271.6Z" fill="#d9d9d9" clip-path="url(#cb2)"/>
<g fill="#f2f2f2" stroke="#000" stroke-width="0.8"><rect x="514.66" y="304.6" width="7.22" height="3"/><rect x="521.88" y="302.5" width="7.22" height="5.1"/><rect x="529.1" y="298.4" width="7.22" height="9.2"/><rect x="536.32" y="285.8" width="7.22" height="21.8"/><rect x="543.54" y="290" width="7.22" height="17.6"/><rect x="550.76" y="281.6" width="7.22" height="26"/><rect x="557.98" y="281.8" width="7.22" height="25.8"/><rect x="565.2" y="280.5" width="7.22" height="27.1"/><rect x="572.42" y="287.6" width="7.22" height="20"/><rect x="579.64" y="286.6" width="7.22" height="21"/><rect x="586.86" y="287.4" width="7.22" height="20.2"/><rect x="594.08" y="285.8" width="7.22" height="21.8"/><rect x="601.3" y="291" width="7.22" height="16.6"/><rect x="608.52" y="298.4" width="7.22" height="9.2"/><rect x="615.74" y="291" width="7.22" height="16.6"/><rect x="622.96" y="296.6" width="7.22" height="11"/></g>
<g fill="#f2f2f2" stroke="#111" stroke-width="0.6"><rect x="493" y="305.4" width="7.22" height="2.2"/><rect x="500.22" y="305.4" width="7.22" height="2.2"/><rect x="507.44" y="305.6" width="7.22" height="2"/></g>
<line x1="555.1" y1="203" x2="555.1" y2="307.95" stroke="#3a3a3a" stroke-width="0.8" stroke-dasharray="3 2.7" stroke-dashoffset="1"/>
<line x1="596.27" y1="203" x2="596.27" y2="307.95" stroke="#3a3a3a" stroke-width="0.8" stroke-dasharray="3 2.7" stroke-dashoffset="1"/>
<line x1="615.62" y1="203" x2="615.62" y2="307.95" stroke="#000" stroke-width="0.95" stroke-dasharray="3 2.7" stroke-dashoffset="1"/>
<line x1="486.7" y1="271.6" x2="661.7" y2="271.6" stroke="#2a2a2a" stroke-width="0.95"/>
<path d="M493,271.6 L495.37,270.35 L497.75,269.11 L500.12,267.89 L502.5,266.71 L504.87,265.58 L507.25,264.51 L509.62,263.48 L512,262.48 L514.37,261.49 L516.75,260.5 L519.12,259.52 L521.5,258.55 L523.87,257.62 L526.25,256.74 L528.62,255.93 L531,255.17 L533.37,254.47 L535.74,253.8 L538.12,253.18 L540.49,252.58 L542.87,252.01 L545.24,251.47 L547.62,250.95 L549.99,250.47 L552.37,250.01 L554.74,249.57 L557.12,249.16 L559.49,248.78 L561.87,248.43 L564.24,248.1 L566.62,247.82 L568.99,247.56 L571.37,247.35 L573.74,247.17 L576.11,247.02 L578.49,246.89 L580.86,246.76 L583.24,246.63 L585.61,246.5 L587.99,246.36 L590.36,246.22 L592.74,246.08 L595.11,245.94 L597.49,245.81 L599.86,245.68 L602.24,245.56 L604.61,245.43 L606.99,245.3 L609.36,245.17 L611.74,245.02 L614.11,244.87 L616.48,244.7 L618.86,244.51 L621.23,244.32 L623.61,244.11 L625.98,243.89 L628.36,243.67 L630.73,243.45 L633.11,243.22" fill="none" stroke="#1b9cb5" stroke-width="1.9" stroke-linecap="round" stroke-linejoin="round" clip-path="url(#cb2)"/>
<path d="M486.7,203 V307.95 H661.7" fill="none" stroke="#555" stroke-width="0.9"/>
<path d="M486.7,271.6 h-2.6 M486.7,254.45 h-2.6 M486.7,237.3 h-2.6 M486.7,220.15 h-2.6 M486.7,203 h-2.6 M493,307.95 v2.2 M515.5,307.95 v2.2 M538,307.95 v2.2 M560.5,307.95 v2.2 M583,307.95 v2.2 M605.5,307.95 v2.2 M628,307.95 v2.2 M650.5,307.95 v2.2" fill="none" stroke="#555" stroke-width="0.8"/>
<text transform="translate(481.1,271.6) rotate(-90) scale(.1)" class="tk">1.0</text>
<text transform="translate(481.1,254.45) rotate(-90) scale(.1)" class="tk">1.2</text>
<text transform="translate(481.1,237.3) rotate(-90) scale(.1)" class="tk">1.4</text>
<text transform="translate(481.1,220.15) rotate(-90) scale(.1)" class="tk">1.6</text>
<text transform="translate(481.1,203) rotate(-90) scale(.1)" class="tk">1.8</text>
<text transform="translate(493,316) scale(.1)" class="tk">0</text>
<text transform="translate(515.5,316) scale(.1)" class="tk">1</text>
<text transform="translate(538,316) scale(.1)" class="tk">2</text>
<text transform="translate(560.5,316) scale(.1)" class="tk">3</text>
<text transform="translate(583,316) scale(.1)" class="tk">4</text>
<text transform="translate(605.5,316) scale(.1)" class="tk">5</text>
<text transform="translate(628,316) scale(.1)" class="tk">6</text>
<text transform="translate(650.5,316) scale(.1)" class="tk">7</text>
<text transform="translate(548.6,325) scale(.1)" class="al" textLength="510" lengthAdjust="spacingAndGlyphs">CEHWI (°C)</text>
<path d="M661.7,306.1 V280.2 M661.7,306.1 h2.4 M661.7,293.2 h2.4 M661.7,280.2 h2.4" fill="none" stroke="#333" stroke-width="0.8"/>
<text transform="translate(665.9,309.1) scale(.1)" class="fr">0</text>
<text transform="translate(665.9,296.2) scale(.1)" class="fr">20</text>
<text transform="translate(665.9,283.2) scale(.1)" class="fr">40</text>
</g>
</g>
<g id="row-c">
<text transform="translate(4.1,347.3) scale(.1)" class="hd" textLength="384" lengthAdjust="spacingAndGlyphs">c Japan</text>
<rect x="0.5" y="353.5" width="684" height="139.7" fill="none" stroke="#808080" stroke-width="1"/>
<g id="p-c1">
<clipPath id="cc0"><rect x="35.45" y="364.3" width="175" height="104.95"/></clipPath>
<path d="M41.75,432.9 L42.55,430.43 L43.34,428.18 L44.14,426.17 L44.94,424.42 L45.74,422.88 L46.53,421.52 L47.33,420.41 L48.13,419.42 L48.92,418.42 L49.72,417.5 L50.52,416.7 L51.31,416.11 L52.11,415.79 L52.91,415.77 L53.71,415.92 L54.5,416.18 L55.3,416.52 L56.1,416.91 L56.89,417.33 L57.69,417.78 L58.49,418.42 L59.28,419.19 L60.08,420.01 L60.88,420.82 L61.68,421.55 L62.47,422.14 L63.27,422.63 L64.07,423.12 L64.86,423.59 L65.66,423.99 L66.46,424.3 L67.26,424.47 L68.05,424.49 L68.85,424.43 L69.65,424.32 L70.44,424.17 L71.24,423.98 L72.04,423.76 L72.83,423.5 L73.63,423.06 L74.43,422.44 L75.23,421.7 L76.02,420.86 L76.82,419.99 L77.62,419.06 L78.41,417.98 L79.21,416.77 L80.01,415.44 L80.8,414.01 L81.6,412.49 L82.4,410.84 L83.2,409.01 L83.99,407.02 L84.79,404.89 L85.59,402.65 L86.38,400.32 L87.18,397.8 L87.98,395.06 L88.78,392.17 L88.78,427.67 L87.98,427.89 L87.18,428.11 L86.38,428.33 L85.59,428.56 L84.79,428.79 L83.99,429.03 L83.2,429.27 L82.4,429.51 L81.6,429.75 L80.8,430.01 L80.01,430.29 L79.21,430.56 L78.41,430.82 L77.62,431.04 L76.82,431.22 L76.02,431.38 L75.23,431.52 L74.43,431.65 L73.63,431.76 L72.83,431.84 L72.04,431.9 L71.24,431.95 L70.44,432 L69.65,432.04 L68.85,432.07 L68.05,432.08 L67.26,432.09 L66.46,432.09 L65.66,432.09 L64.86,432.09 L64.07,432.09 L63.27,432.09 L62.47,432.09 L61.68,432.08 L60.88,432.06 L60.08,432.03 L59.28,431.99 L58.49,431.95 L57.69,431.9 L56.89,431.85 L56.1,431.77 L55.3,431.67 L54.5,431.54 L53.71,431.4 L52.91,431.26 L52.11,431.11 L51.31,430.92 L50.52,430.69 L49.72,430.46 L48.92,430.26 L48.13,430.12 L47.33,430.07 L46.53,430.1 L45.74,430.19 L44.94,430.32 L44.14,430.61 L43.34,431.19 L42.55,431.98 L41.75,432.9Z" fill="#d9d9d9" clip-path="url(#cc0)"/>
<g fill="#e9e9e9" stroke="#000" stroke-width="0.8"><rect x="41.75" y="448.3" width="2.53" height="20.6"/><rect x="44.28" y="441.7" width="2.53" height="27.2"/><rect x="46.81" y="446.9" width="2.53" height="22"/><rect x="49.34" y="445.8" width="2.53" height="23.1"/><rect x="51.87" y="451" width="2.53" height="17.9"/><rect x="54.4" y="451.6" width="2.53" height="17.3"/><rect x="56.93" y="458" width="2.53" height="10.9"/><rect x="59.46" y="458.9" width="2.53" height="10"/><rect x="61.99" y="454.8" width="2.53" height="14.1"/><rect x="64.52" y="461.8" width="2.53" height="7.1"/><rect x="67.05" y="461" width="2.53" height="7.9"/><rect x="69.58" y="464.6" width="2.53" height="4.3"/><rect x="72.11" y="461.8" width="2.53" height="7.1"/><rect x="79.7" y="466.3" width="2.53" height="2.6"/></g>
<g fill="#e9e9e9" stroke="#111" stroke-width="0.6"><rect x="74.64" y="466.7" width="2.53" height="2.2"/><rect x="77.17" y="466.7" width="2.53" height="2.2"/><rect x="82.23" y="466.5" width="2.53" height="2.4"/><rect x="84.76" y="467.2" width="2.53" height="1.7"/><rect x="87.29" y="467.4" width="2.53" height="1.5"/></g>
<line x1="47.35" y1="364.3" x2="47.35" y2="469.25" stroke="#444" stroke-width="0.8" stroke-dasharray="3 2.7" stroke-dashoffset="1"/>
<line x1="62.54" y1="364.3" x2="62.54" y2="469.25" stroke="#444" stroke-width="0.8" stroke-dasharray="3 2.7" stroke-dashoffset="1"/>
<line x1="72.46" y1="364.3" x2="72.46" y2="469.25" stroke="#222" stroke-width="0.95" stroke-dasharray="3 2.7" stroke-dashoffset="1"/>
<line x1="35.45" y1="432.9" x2="210.45" y2="432.9" stroke="#828282" stroke-width="1.6"/>
<path d="M41.75,432.9 L42.55,431.5 L43.36,430.16 L44.16,428.95 L44.97,427.93 L45.77,427.14 L46.58,426.53 L47.38,426.02 L48.19,425.58 L48.99,425.19 L49.8,424.87 L50.6,424.61 L51.41,424.44 L52.21,424.34 L53.02,424.33 L53.82,424.4 L54.62,424.54 L55.43,424.74 L56.23,424.99 L57.04,425.27 L57.84,425.56 L58.65,425.88 L59.45,426.2 L60.26,426.52 L61.06,426.84 L61.87,427.16 L62.67,427.46 L63.48,427.74 L64.28,428.01 L65.09,428.25 L65.89,428.46 L66.69,428.64 L67.5,428.78 L68.3,428.89 L69.11,428.95 L69.91,428.97 L70.72,428.93 L71.52,428.82 L72.33,428.65 L73.13,428.4 L73.94,428.08 L74.74,427.69 L75.55,427.24 L76.35,426.72 L77.16,426.13 L77.96,425.49 L78.76,424.8 L79.57,424.05 L80.37,423.25 L81.18,422.4 L81.98,421.5 L82.79,420.56 L83.59,419.56 L84.4,418.51 L85.2,417.39 L86.01,416.2 L86.81,414.94 L87.62,413.62 L88.42,412.25 L89.22,410.86" fill="none" stroke="#9a5fae" stroke-width="1.9" stroke-linecap="round" stroke-linejoin="round" clip-path="url(#cc0)"/>
<path d="M35.45,364.3 V469.25 H210.45" fill="none" stroke="#555" stroke-width="0.9"/>
<path d="M35.45,432.9 h-2.6 M35.45,415.75 h-2.6 M35.45,398.6 h-2.6 M35.45,381.45 h-2.6 M35.45,364.3 h-2.6 M41.75,469.25 v2.2 M64.25,469.25 v2.2 M86.75,469.25 v2.2 M109.25,469.25 v2.2 M131.75,469.25 v2.2 M154.25,469.25 v2.2 M176.75,469.25 v2.2 M199.25,469.25 v2.2" fill="none" stroke="#555" stroke-width="0.8"/>
<text transform="translate(29.85,432.9) rotate(-90) scale(.1)" class="tk">1.0</text>
<text transform="translate(29.85,415.75) rotate(-90) scale(.1)" class="tk">1.2</text>
<text transform="translate(29.85,398.6) rotate(-90) scale(.1)" class="tk">1.4</text>
<text transform="translate(29.85,381.45) rotate(-90) scale(.1)" class="tk">1.6</text>
<text transform="translate(29.85,364.3) rotate(-90) scale(.1)" class="tk">1.8</text>
<text transform="translate(41.75,477.3) scale(.1)" class="tk">0</text>
<text transform="translate(64.25,477.3) scale(.1)" class="tk">1</text>
<text transform="translate(86.75,477.3) scale(.1)" class="tk">2</text>
<text transform="translate(109.25,477.3) scale(.1)" class="tk">3</text>
<text transform="translate(131.75,477.3) scale(.1)" class="tk">4</text>
<text transform="translate(154.25,477.3) scale(.1)" class="tk">5</text>
<text transform="translate(176.75,477.3) scale(.1)" class="tk">6</text>
<text transform="translate(199.25,477.3) scale(.1)" class="tk">7</text>
<text transform="translate(97.35,486.3) scale(.1)" class="al" textLength="510" lengthAdjust="spacingAndGlyphs">CEHWI (°C)</text>
<text transform="translate(20.55,398.6) rotate(-90) scale(.1)" class="al" style="font-size:94.5px" text-anchor="middle">Relative risk</text>
<text transform="translate(232.15,453.5) rotate(-90) scale(0.1)" font-size="66" text-anchor="middle" fill="#111" stroke="#111" stroke-width="1.2">Frequency</text>
<path d="M210.45,467.4 V441.2 M210.45,467.4 h2.4 M210.45,454.3 h2.4 M210.45,441.2 h2.4" fill="none" stroke="#888" stroke-width="0.8"/>
<text transform="translate(214.55,470.4) scale(.1)" class="fr">0</text>
<text transform="translate(214.55,457.3) scale(.1)" class="fr">50</text>
<text transform="translate(214.55,444.2) scale(.1)" class="fr">100</text>
</g>
<g id="p-c2">
<clipPath id="cc1"><rect x="261.1" y="364.3" width="175" height="104.95"/></clipPath>
<path d="M267.4,432.9 L268.57,431.75 L269.75,430.68 L270.92,429.67 L272.1,428.75 L273.27,427.92 L274.45,427.17 L275.62,426.45 L276.8,425.77 L277.97,425.19 L279.15,424.75 L280.32,424.47 L281.49,424.25 L282.67,424.15 L283.84,424.34 L285.02,424.81 L286.19,425.42 L287.37,426.02 L288.54,426.47 L289.72,426.79 L290.89,427.12 L292.07,427.43 L293.24,427.72 L294.42,427.95 L295.59,428.12 L296.76,428.22 L297.94,428.21 L299.11,428.12 L300.29,427.96 L301.46,427.75 L302.64,427.5 L303.81,427.24 L304.99,426.98 L306.16,426.68 L307.34,426.32 L308.51,425.93 L309.68,425.49 L310.86,425.01 L312.03,424.51 L313.21,423.98 L314.38,423.41 L315.56,422.77 L316.73,422.06 L317.91,421.3 L319.08,420.49 L320.26,419.66 L321.43,418.8 L322.61,417.92 L323.78,416.99 L324.95,416.01 L326.13,414.99 L327.3,413.94 L328.48,412.86 L329.65,411.79 L330.83,410.71 L332,409.63 L333.18,408.54 L334.35,407.43 L335.53,406.3 L336.7,405.16 L336.7,432.64 L335.53,432.45 L334.35,432.27 L333.18,432.11 L332,431.97 L330.83,431.87 L329.65,431.78 L328.48,431.7 L327.3,431.62 L326.13,431.56 L324.95,431.5 L323.78,431.46 L322.61,431.44 L321.43,431.45 L320.26,431.48 L319.08,431.53 L317.91,431.6 L316.73,431.67 L315.56,431.75 L314.38,431.82 L313.21,431.88 L312.03,431.95 L310.86,432.02 L309.68,432.1 L308.51,432.17 L307.34,432.23 L306.16,432.28 L304.99,432.3 L303.81,432.3 L302.64,432.3 L301.46,432.3 L300.29,432.3 L299.11,432.3 L297.94,432.3 L296.76,432.3 L295.59,432.33 L294.42,432.37 L293.24,432.42 L292.07,432.48 L290.89,432.54 L289.72,432.6 L288.54,432.64 L287.37,432.69 L286.19,432.73 L285.02,432.78 L283.84,432.82 L282.67,432.86 L281.49,432.88 L280.32,432.9 L279.15,432.89 L277.97,432.84 L276.8,432.77 L275.62,432.7 L274.45,432.65 L273.27,432.65 L272.1,432.66 L270.92,432.69 L269.75,432.74 L268.57,432.81 L267.4,432.9Z" fill="#d9d9d9" clip-path="url(#cc1)"/>
<g fill="#f2f2f2" stroke="#000" stroke-width="0.8"><rect x="271.09" y="465.9" width="3.69" height="3"/><rect x="274.78" y="463.8" width="3.69" height="5.1"/><rect x="278.47" y="453.3" width="3.69" height="15.6"/><rect x="282.16" y="451.4" width="3.69" height="17.5"/><rect x="285.85" y="443.4" width="3.69" height="25.5"/><rect x="289.54" y="441.5" width="3.69" height="27.4"/><rect x="293.23" y="443.4" width="3.69" height="25.5"/><rect x="296.92" y="445.3" width="3.69" height="23.6"/><rect x="300.61" y="445.1" width="3.69" height="23.8"/><rect x="304.3" y="451.4" width="3.69" height="17.5"/><rect x="307.99" y="454.6" width="3.69" height="14.3"/><rect x="311.68" y="457.2" width="3.69" height="11.7"/><rect x="315.37" y="461.3" width="3.69" height="7.6"/><rect x="319.06" y="462.8" width="3.69" height="6.1"/><rect x="322.75" y="463.8" width="3.69" height="5.1"/><rect x="326.44" y="464.6" width="3.69" height="4.3"/><rect x="330.13" y="465.9" width="3.69" height="3"/><rect x="333.82" y="466.2" width="3.69" height="2.7"/></g>
<g fill="#f2f2f2" stroke="#111" stroke-width="0.6"><rect x="267.4" y="466.7" width="3.69" height="2.2"/></g>
<line x1="288.55" y1="364.3" x2="288.55" y2="469.25" stroke="#444" stroke-width="0.8" stroke-dasharray="3 2.7" stroke-dashoffset="1"/>
<line x1="304.59" y1="364.3" x2="304.59" y2="469.25" stroke="#444" stroke-width="0.8" stroke-dasharray="3 2.7" stroke-dashoffset="1"/>
<line x1="313.48" y1="364.3" x2="313.48" y2="469.25" stroke="#222" stroke-width="0.95" stroke-dasharray="3 2.7" stroke-dashoffset="1"/>
<line x1="261.1" y1="432.9" x2="436.1" y2="432.9" stroke="#828282" stroke-width="1.6"/>
<path d="M267.4,432.9 L268.59,432.52 L269.77,432.14 L270.96,431.76 L272.14,431.39 L273.33,431.02 L274.52,430.66 L275.7,430.32 L276.89,430 L278.07,429.71 L279.26,429.47 L280.45,429.29 L281.63,429.17 L282.82,429.11 L284,429.12 L285.19,429.19 L286.38,429.32 L287.56,429.47 L288.75,429.65 L289.93,429.82 L291.12,429.97 L292.31,430.11 L293.49,430.22 L294.68,430.31 L295.86,430.37 L297.05,430.41 L298.24,430.42 L299.42,430.4 L300.61,430.35 L301.79,430.27 L302.98,430.17 L304.17,430.04 L305.35,429.88 L306.54,429.7 L307.72,429.5 L308.91,429.28 L310.1,429.03 L311.28,428.77 L312.47,428.48 L313.65,428.18 L314.84,427.86 L316.03,427.53 L317.21,427.18 L318.4,426.82 L319.58,426.44 L320.77,426.05 L321.96,425.65 L323.14,425.24 L324.33,424.82 L325.51,424.39 L326.7,423.95 L327.89,423.51 L329.07,423.06 L330.26,422.61 L331.44,422.16 L332.63,421.71 L333.82,421.26 L335,420.81 L336.19,420.36 L337.38,419.91" fill="none" stroke="#9a5fae" stroke-width="1.9" stroke-linecap="round" stroke-linejoin="round" clip-path="url(#cc1)"/>
<path d="M261.1,364.3 V469.25 H436.1" fill="none" stroke="#555" stroke-width="0.9"/>
<path d="M261.1,432.9 h-2.6 M261.1,415.75 h-2.6 M261.1,398.6 h-2.6 M261.1,381.45 h-2.6 M261.1,364.3 h-2.6 M267.4,469.25 v2.2 M289.9,469.25 v2.2 M312.4,469.25 v2.2 M334.9,469.25 v2.2 M357.4,469.25 v2.2 M379.9,469.25 v2.2 M402.4,469.25 v2.2 M424.9,469.25 v2.2" fill="none" stroke="#555" stroke-width="0.8"/>
<text transform="translate(255.5,432.9) rotate(-90) scale(.1)" class="tk">1.0</text>
<text transform="translate(255.5,415.75) rotate(-90) scale(.1)" class="tk">1.2</text>
<text transform="translate(255.5,398.6) rotate(-90) scale(.1)" class="tk">1.4</text>
<text transform="translate(255.5,381.45) rotate(-90) scale(.1)" class="tk">1.6</text>
<text transform="translate(255.5,364.3) rotate(-90) scale(.1)" class="tk">1.8</text>
<text transform="translate(267.4,477.3) scale(.1)" class="tk">0</text>
<text transform="translate(289.9,477.3) scale(.1)" class="tk">1</text>
<text transform="translate(312.4,477.3) scale(.1)" class="tk">2</text>
<text transform="translate(334.9,477.3) scale(.1)" class="tk">3</text>
<text transform="translate(357.4,477.3) scale(.1)" class="tk">4</text>
<text transform="translate(379.9,477.3) scale(.1)" class="tk">5</text>
<text transform="translate(402.4,477.3) scale(.1)" class="tk">6</text>
<text transform="translate(424.9,477.3) scale(.1)" class="tk">7</text>
<text transform="translate(323,486.3) scale(.1)" class="al" textLength="510" lengthAdjust="spacingAndGlyphs">CEHWI (°C)</text>
<path d="M436.1,467.4 V441.2 M436.1,467.4 h2.4 M436.1,454.3 h2.4 M436.1,441.2 h2.4" fill="none" stroke="#555" stroke-width="0.8"/>
<text transform="translate(440.5,470.4) scale(.1)" class="fr">0</text>
<text transform="translate(440.5,457.3) scale(.1)" class="fr">50</text>
<text transform="translate(440.5,444.2) scale(.1)" class="fr">100</text>
</g>
<g id="p-c3">
<clipPath id="cc2"><rect x="486.7" y="364.3" width="175" height="104.95"/></clipPath>
<path d="M493,432.9 L494.98,431.59 L496.97,430.26 L498.95,428.9 L500.93,427.52 L502.92,426.12 L504.9,424.71 L506.88,423.27 L508.86,421.8 L510.85,420.31 L512.83,418.8 L514.81,417.27 L516.8,415.73 L518.78,414.15 L520.76,412.55 L522.75,410.94 L524.73,409.35 L526.71,407.78 L528.69,406.22 L530.68,404.67 L532.66,403.12 L534.64,401.59 L536.63,400.07 L538.61,398.57 L540.59,397.05 L542.58,395.53 L544.56,394.02 L546.54,392.53 L548.53,391.09 L550.51,389.72 L552.49,388.42 L554.47,387.2 L556.46,386.03 L558.44,384.91 L560.42,383.86 L562.41,382.86 L564.39,381.9 L566.37,380.95 L568.36,380.04 L570.34,379.18 L572.32,378.4 L574.31,377.72 L576.29,377.14 L578.27,376.6 L580.25,376.11 L582.24,375.67 L584.22,375.28 L586.2,374.96 L588.19,374.7 L590.17,374.45 L592.15,374.21 L594.14,374 L596.12,373.85 L598.1,373.75 L600.08,373.73 L602.07,373.73 L604.05,373.73 L606.03,373.73 L608.02,373.73 L610,373.73 L610,405.8 L608.02,405.8 L606.03,405.8 L604.05,405.8 L602.07,405.8 L600.08,405.8 L598.1,405.81 L596.12,405.85 L594.14,405.92 L592.15,406.02 L590.17,406.13 L588.19,406.25 L586.2,406.37 L584.22,406.55 L582.24,406.76 L580.25,407.01 L578.27,407.28 L576.29,407.55 L574.31,407.82 L572.32,408.1 L570.34,408.4 L568.36,408.71 L566.37,409.05 L564.39,409.41 L562.41,409.8 L560.42,410.24 L558.44,410.73 L556.46,411.27 L554.47,411.82 L552.49,412.38 L550.51,412.95 L548.53,413.54 L546.54,414.15 L544.56,414.77 L542.58,415.4 L540.59,416.04 L538.61,416.67 L536.63,417.3 L534.64,417.94 L532.66,418.58 L530.68,419.23 L528.69,419.88 L526.71,420.53 L524.73,421.17 L522.75,421.81 L520.76,422.44 L518.78,423.08 L516.8,423.74 L514.81,424.43 L512.83,425.14 L510.85,425.88 L508.86,426.63 L506.88,427.39 L504.9,428.16 L502.92,428.93 L500.93,429.71 L498.95,430.49 L496.97,431.29 L494.98,432.09 L493,432.9Z" fill="#d9d9d9" clip-path="url(#cc2)"/>
<g fill="#f2f2f2" stroke="#000" stroke-width="0.8"><rect x="529.9" y="465.1" width="6.15" height="3.8"/><rect x="536.05" y="463.2" width="6.15" height="5.7"/><rect x="542.2" y="449.5" width="6.15" height="19.4"/><rect x="548.35" y="441.6" width="6.15" height="27.3"/><rect x="554.5" y="443.7" width="6.15" height="25.2"/><rect x="560.65" y="442.6" width="6.15" height="26.3"/><rect x="566.8" y="447.6" width="6.15" height="21.3"/><rect x="572.95" y="455.8" width="6.15" height="13.1"/><rect x="579.1" y="454.7" width="6.15" height="14.2"/><rect x="585.25" y="459.4" width="6.15" height="9.5"/><rect x="591.4" y="461.3" width="6.15" height="7.6"/><rect x="597.55" y="463.2" width="6.15" height="5.7"/><rect x="603.7" y="465.1" width="6.15" height="3.8"/></g>
<g fill="#f2f2f2" stroke="#111" stroke-width="0.6"><rect x="493" y="466.9" width="6.15" height="2"/><rect x="499.15" y="466.9" width="6.15" height="2"/><rect x="505.3" y="466.9" width="6.15" height="2"/><rect x="511.45" y="466.9" width="6.15" height="2"/><rect x="517.6" y="466.9" width="6.15" height="2"/><rect x="523.75" y="466.9" width="6.15" height="2"/></g>
<line x1="552.4" y1="364.3" x2="552.4" y2="469.25" stroke="#444" stroke-width="0.8" stroke-dasharray="3 2.7" stroke-dashoffset="1"/>
<line x1="575.28" y1="364.3" x2="575.28" y2="469.25" stroke="#444" stroke-width="0.8" stroke-dasharray="3 2.7" stroke-dashoffset="1"/>
<line x1="587.05" y1="364.3" x2="587.05" y2="469.25" stroke="#222" stroke-width="0.95" stroke-dasharray="3 2.7" stroke-dashoffset="1"/>
<line x1="486.7" y1="432.9" x2="661.7" y2="432.9" stroke="#828282" stroke-width="1.6"/>
<path d="M493,432.9 L494.99,431.85 L496.98,430.8 L498.97,429.74 L500.96,428.68 L502.95,427.61 L504.94,426.54 L506.93,425.46 L508.93,424.36 L510.92,423.27 L512.91,422.16 L514.9,421.06 L516.89,419.95 L518.88,418.84 L520.87,417.74 L522.86,416.65 L524.85,415.59 L526.84,414.55 L528.83,413.54 L530.82,412.54 L532.81,411.55 L534.8,410.57 L536.79,409.58 L538.79,408.58 L540.78,407.56 L542.77,406.55 L544.76,405.53 L546.75,404.54 L548.74,403.57 L550.73,402.64 L552.72,401.75 L554.71,400.92 L556.7,400.13 L558.69,399.38 L560.68,398.65 L562.67,397.94 L564.66,397.25 L566.66,396.57 L568.65,395.91 L570.64,395.29 L572.63,394.71 L574.62,394.17 L576.61,393.69 L578.6,393.26 L580.59,392.88 L582.58,392.55 L584.57,392.24 L586.56,391.97 L588.55,391.73 L590.54,391.51 L592.53,391.32 L594.52,391.15 L596.52,391.02 L598.51,390.92 L600.5,390.85 L602.49,390.82 L604.48,390.81 L606.47,390.82 L608.46,390.85 L610.45,390.88" fill="none" stroke="#9a5fae" stroke-width="1.9" stroke-linecap="round" stroke-linejoin="round" clip-path="url(#cc2)"/>
<path d="M486.7,364.3 V469.25 H661.7" fill="none" stroke="#555" stroke-width="0.9"/>
<path d="M486.7,432.9 h-2.6 M486.7,415.75 h-2.6 M486.7,398.6 h-2.6 M486.7,381.45 h-2.6 M486.7,364.3 h-2.6 M493,469.25 v2.2 M515.5,469.25 v2.2 M538,469.25 v2.2 M560.5,469.25 v2.2 M583,469.25 v2.2 M605.5,469.25 v2.2 M628,469.25 v2.2 M650.5,469.25 v2.2" fill="none" stroke="#555" stroke-width="0.8"/>
<text transform="translate(481.1,432.9) rotate(-90) scale(.1)" class="tk">1.0</text>
<text transform="translate(481.1,415.75) rotate(-90) scale(.1)" class="tk">1.2</text>
<text transform="translate(481.1,398.6) rotate(-90) scale(.1)" class="tk">1.4</text>
<text transform="translate(481.1,381.45) rotate(-90) scale(.1)" class="tk">1.6</text>
<text transform="translate(481.1,364.3) rotate(-90) scale(.1)" class="tk">1.8</text>
<text transform="translate(493,477.3) scale(.1)" class="tk">0</text>
<text transform="translate(515.5,477.3) scale(.1)" class="tk">1</text>
<text transform="translate(538,477.3) scale(.1)" class="tk">2</text>
<text transform="translate(560.5,477.3) scale(.1)" class="tk">3</text>
<text transform="translate(583,477.3) scale(.1)" class="tk">4</text>
<text transform="translate(605.5,477.3) scale(.1)" class="tk">5</text>
<text transform="translate(628,477.3) scale(.1)" class="tk">6</text>
<text transform="translate(650.5,477.3) scale(.1)" class="tk">7</text>
<text transform="translate(548.6,486.3) scale(.1)" class="al" textLength="510" lengthAdjust="spacingAndGlyphs">CEHWI (°C)</text>
<path d="M661.7,467.4 V441.2 M661.7,467.4 h2.4 M661.7,454.3 h2.4 M661.7,441.2 h2.4" fill="none" stroke="#333" stroke-width="0.8"/>
<text transform="translate(666.1,470.4) scale(.1)" class="fr">0</text>
<text transform="translate(666.1,457.3) scale(.1)" class="fr">50</text>
<text transform="translate(666.1,444.2) scale(.1)" class="fr">100</text>
</g>
</g>
<g id="row-d">
<text transform="translate(2.1,507.9) scale(.1)" class="hd" textLength="379" lengthAdjust="spacingAndGlyphs">d China</text>
<rect x="0.5" y="514.4" width="684" height="139.4" fill="none" stroke="#808080" stroke-width="1"/>
<g id="p-d1">
<clipPath id="cd0"><rect x="31.15" y="523.8" width="175" height="104.95"/></clipPath>
<path d="M37.45,592.4 L38.29,591.41 L39.14,590.41 L39.98,589.39 L40.82,588.36 L41.66,587.3 L42.51,586.19 L43.35,585.01 L44.19,583.81 L45.04,582.62 L45.88,581.48 L46.72,580.45 L47.56,579.55 L48.41,578.75 L49.25,577.98 L50.09,577.26 L50.93,576.6 L51.78,576.02 L52.62,575.53 L53.46,575.14 L54.31,574.78 L55.15,574.43 L55.99,574.11 L56.83,573.83 L57.68,573.61 L58.52,573.46 L59.36,573.41 L60.21,573.41 L61.05,573.41 L61.89,573.41 L62.73,573.41 L63.58,573.41 L64.42,573.41 L65.26,573.39 L66.11,573.14 L66.95,572.63 L67.79,571.91 L68.63,571.02 L69.48,570.01 L70.32,568.93 L71.16,567.28 L72,564.94 L72.85,562.16 L73.69,559.18 L74.53,556.27 L75.38,553.66 L76.22,551.36 L77.06,549.09 L77.9,546.85 L78.75,544.66 L79.59,542.53 L80.43,540.48 L81.28,538.51 L82.12,536.64 L82.96,534.87 L83.8,533.19 L84.65,531.58 L85.49,530.05 L86.33,528.6 L87.18,527.23 L87.18,594.29 L86.33,594.01 L85.49,593.71 L84.65,593.4 L83.8,593.07 L82.96,592.73 L82.12,592.37 L81.28,592 L80.43,591.61 L79.59,591.18 L78.75,590.7 L77.9,590.2 L77.06,589.68 L76.22,589.17 L75.38,588.69 L74.53,588.24 L73.69,587.86 L72.85,587.5 L72,587.12 L71.16,586.76 L70.32,586.46 L69.48,586.24 L68.63,586.14 L67.79,586.21 L66.95,586.44 L66.11,586.79 L65.26,587.2 L64.42,587.7 L63.58,588.44 L62.73,589.37 L61.89,590.42 L61.05,591.51 L60.21,592.56 L59.36,593.5 L58.52,594.47 L57.68,595.54 L56.83,596.63 L55.99,597.66 L55.15,598.54 L54.31,599.18 L53.46,599.5 L52.62,599.52 L51.78,599.52 L50.93,599.52 L50.09,599.52 L49.25,599.52 L48.41,599.52 L47.56,599.52 L46.72,599.4 L45.88,599.08 L45.04,598.61 L44.19,598.03 L43.35,597.39 L42.51,596.74 L41.66,596.11 L40.82,595.48 L39.98,594.78 L39.14,594.03 L38.29,593.23 L37.45,592.4Z" fill="#d9d9d9" clip-path="url(#cd0)"/>
<g fill="#f2f2f2" stroke="#000" stroke-width="0.8"><rect x="37.45" y="611.5" width="2.6" height="16.9"/><rect x="40.05" y="600.7" width="2.6" height="27.7"/><rect x="42.65" y="610.65" width="2.6" height="17.75"/><rect x="45.25" y="615.7" width="2.6" height="12.7"/><rect x="47.85" y="614.4" width="2.6" height="14"/><rect x="50.45" y="618.2" width="2.6" height="10.2"/><rect x="53.05" y="617.4" width="2.6" height="11"/><rect x="55.65" y="620.8" width="2.6" height="7.6"/><rect x="58.25" y="622.3" width="2.6" height="6.1"/><rect x="60.85" y="624.3" width="2.6" height="4.1"/><rect x="63.45" y="623.5" width="2.6" height="4.9"/><rect x="66.05" y="624.5" width="2.6" height="3.9"/><rect x="68.65" y="625.2" width="2.6" height="3.2"/><rect x="71.25" y="624.8" width="2.6" height="3.6"/><rect x="73.85" y="625.7" width="2.6" height="2.7"/><rect x="84.25" y="625.5" width="2.6" height="2.9"/></g>
<g fill="#f2f2f2" stroke="#111" stroke-width="0.6"><rect x="76.45" y="626" width="2.6" height="2.4"/><rect x="79.05" y="626.2" width="2.6" height="2.2"/><rect x="81.65" y="626.2" width="2.6" height="2.2"/></g>
<line x1="41.64" y1="523.8" x2="41.64" y2="628.75" stroke="#222" stroke-width="0.8" stroke-dasharray="3 2.7" stroke-dashoffset="1"/>
<line x1="53.2" y1="523.8" x2="53.2" y2="628.75" stroke="#999" stroke-width="1.3" stroke-dasharray="3 2.7" stroke-dashoffset="1"/>
<line x1="59.43" y1="523.8" x2="59.43" y2="628.75" stroke="#111" stroke-width="0.9" stroke-dasharray="3 2.7" stroke-dashoffset="1"/>
<line x1="31.15" y1="592.4" x2="206.15" y2="592.4" stroke="#111" stroke-width="0.95"/>
<path d="M37.45,592.4 L38.3,592.28 L39.15,592.15 L40,592.02 L40.85,591.87 L41.7,591.7 L42.55,591.51 L43.4,591.3 L44.25,591.07 L45.1,590.82 L45.95,590.55 L46.8,590.27 L47.66,589.97 L48.51,589.65 L49.36,589.32 L50.21,588.98 L51.06,588.63 L51.91,588.26 L52.76,587.88 L53.61,587.5 L54.46,587.1 L55.31,586.69 L56.16,586.26 L57.01,585.81 L57.86,585.34 L58.71,584.83 L59.56,584.3 L60.41,583.73 L61.26,583.14 L62.11,582.53 L62.96,581.9 L63.81,581.27 L64.66,580.64 L65.51,580.01 L66.36,579.39 L67.21,578.77 L68.07,578.15 L68.92,577.53 L69.77,576.91 L70.62,576.28 L71.47,575.63 L72.32,574.98 L73.17,574.3 L74.02,573.62 L74.87,572.94 L75.72,572.27 L76.57,571.61 L77.42,570.96 L78.27,570.34 L79.12,569.75 L79.97,569.19 L80.82,568.67 L81.67,568.18 L82.52,567.72 L83.37,567.3 L84.22,566.9 L85.07,566.54 L85.92,566.2 L86.77,565.88 L87.62,565.56" fill="none" stroke="#3f5b9b" stroke-width="1.9" stroke-linecap="round" stroke-linejoin="round" clip-path="url(#cd0)"/>
<path d="M31.15,523.8 V628.75 H206.15" fill="none" stroke="#222" stroke-width="0.9"/>
<path d="M31.15,592.4 h-2.6 M31.15,575.25 h-2.6 M31.15,558.1 h-2.6 M31.15,540.95 h-2.6 M31.15,523.8 h-2.6 M37.45,628.75 v2.2 M59.95,628.75 v2.2 M82.45,628.75 v2.2 M104.95,628.75 v2.2 M127.45,628.75 v2.2 M149.95,628.75 v2.2 M172.45,628.75 v2.2 M194.95,628.75 v2.2" fill="none" stroke="#222" stroke-width="0.8"/>
<text transform="translate(25.55,592.4) rotate(-90) scale(.1)" class="tk">1.0</text>
<text transform="translate(25.55,575.25) rotate(-90) scale(.1)" class="tk">1.2</text>
<text transform="translate(25.55,558.1) rotate(-90) scale(.1)" class="tk">1.4</text>
<text transform="translate(25.55,540.95) rotate(-90) scale(.1)" class="tk">1.6</text>
<text transform="translate(25.55,523.8) rotate(-90) scale(.1)" class="tk">1.8</text>
<text transform="translate(37.45,636.8) scale(.1)" class="tk">0</text>
<text transform="translate(59.95,636.8) scale(.1)" class="tk">1</text>
<text transform="translate(82.45,636.8) scale(.1)" class="tk">2</text>
<text transform="translate(104.95,636.8) scale(.1)" class="tk">3</text>
<text transform="translate(127.45,636.8) scale(.1)" class="tk">4</text>
<text transform="translate(149.95,636.8) scale(.1)" class="tk">5</text>
<text transform="translate(172.45,636.8) scale(.1)" class="tk">6</text>
<text transform="translate(194.95,636.8) scale(.1)" class="tk">7</text>
<text transform="translate(89.95,645.8) scale(.1)" class="al" textLength="510" lengthAdjust="spacingAndGlyphs">CEHWI (°C)</text>
<text transform="translate(13.25,558.1) rotate(-90) scale(.1)" class="al" style="font-size:94.5px" text-anchor="middle">Relative risk</text>
<text transform="translate(227.85,613) rotate(-90) scale(0.1)" font-size="66" text-anchor="middle" fill="#111" stroke="#111" stroke-width="1.2">Frequency</text>
<path d="M205.65,626.7 V601.2 M205.65,626.7 h2.4 M205.65,613.95 h2.4 M205.65,601.2 h2.4" fill="none" stroke="#aaa" stroke-width="0.8"/>
<text transform="translate(210.65,629.7) scale(.1)" class="fr">0</text>
<text transform="translate(210.65,616.95) scale(.1)" class="fr">20</text>
<text transform="translate(210.65,604.2) scale(.1)" class="fr">40</text>
</g>
<g id="p-d2">
<clipPath id="cd1"><rect x="256.8" y="523.8" width="175" height="104.95"/></clipPath>
<path d="M263.1,592.4 L265.19,588.97 L267.29,585.78 L269.38,582.89 L271.47,580.34 L273.57,578.01 L275.66,575.84 L277.76,573.95 L279.85,572.45 L281.94,571.3 L284.04,570.29 L286.13,569.46 L288.22,568.87 L290.32,568.53 L292.41,568.24 L294.5,568.02 L296.6,567.9 L298.69,567.9 L300.79,568.15 L302.88,568.59 L304.97,569.16 L307.07,569.79 L309.16,570.47 L311.25,571.39 L313.35,572.5 L315.44,573.71 L317.53,574.91 L319.63,576 L321.72,577.04 L323.82,578.09 L325.91,579.1 L328,580.03 L330.1,580.83 L332.19,581.52 L334.28,582.22 L336.38,582.86 L338.47,583.36 L340.56,583.63 L342.66,583.64 L344.75,583.57 L346.85,583.44 L348.94,583.27 L351.03,582.87 L353.13,581.94 L355.22,580.67 L357.31,579.25 L359.41,577.87 L361.5,576.43 L363.59,574.84 L365.69,573.13 L367.78,571.35 L369.88,569.51 L371.97,567.57 L374.06,565.49 L376.16,563.34 L378.25,561.18 L380.34,559.05 L382.44,556.89 L384.53,554.72 L386.62,552.53 L386.62,578.85 L384.53,579.66 L382.44,580.47 L380.34,581.28 L378.25,582.08 L376.16,582.88 L374.06,583.67 L371.97,584.46 L369.88,585.23 L367.78,586.01 L365.69,586.8 L363.59,587.57 L361.5,588.31 L359.41,589 L357.31,589.63 L355.22,590.23 L353.13,590.79 L351.03,591.33 L348.94,591.85 L346.85,592.36 L344.75,592.84 L342.66,593.28 L340.56,593.66 L338.47,594.01 L336.38,594.33 L334.28,594.63 L332.19,594.89 L330.1,595.11 L328,595.31 L325.91,595.49 L323.82,595.65 L321.72,595.79 L319.63,595.91 L317.53,596.02 L315.44,596.13 L313.35,596.22 L311.25,596.3 L309.16,596.34 L307.07,596.34 L304.97,596.34 L302.88,596.34 L300.79,596.34 L298.69,596.34 L296.6,596.33 L294.5,596.26 L292.41,596.14 L290.32,596.01 L288.22,595.86 L286.13,595.7 L284.04,595.5 L281.94,595.27 L279.85,595.01 L277.76,594.68 L275.66,594.29 L273.57,593.88 L271.47,593.52 L269.38,593.21 L267.29,592.92 L265.19,592.65 L263.1,592.4Z" fill="#d9d9d9" clip-path="url(#cd1)"/>
<g fill="#f2f2f2" stroke="#000" stroke-width="0.8"><rect x="269.62" y="615.9" width="6.52" height="12.5"/><rect x="276.14" y="601" width="6.52" height="27.4"/><rect x="282.66" y="607.6" width="6.52" height="20.8"/><rect x="289.18" y="616.8" width="6.52" height="11.6"/><rect x="295.7" y="616.8" width="6.52" height="11.6"/><rect x="302.22" y="618.55" width="6.52" height="9.85"/><rect x="308.74" y="618.55" width="6.52" height="9.85"/><rect x="315.26" y="619.64" width="6.52" height="8.76"/><rect x="321.78" y="613.5" width="6.52" height="14.9"/><rect x="328.3" y="619.9" width="6.52" height="8.5"/><rect x="334.82" y="619" width="6.52" height="9.4"/><rect x="341.34" y="623.2" width="6.52" height="5.2"/><rect x="347.86" y="624.3" width="6.52" height="4.1"/><rect x="354.38" y="621.6" width="6.52" height="6.8"/><rect x="360.9" y="623.2" width="6.52" height="5.2"/><rect x="367.42" y="625.4" width="6.52" height="3"/><rect x="373.94" y="624.3" width="6.52" height="4.1"/><rect x="380.46" y="625.4" width="6.52" height="3"/></g>
<g fill="#f2f2f2" stroke="#111" stroke-width="0.6"><rect x="263.1" y="626.25" width="6.52" height="2.15"/></g>
<line x1="282.81" y1="523.8" x2="282.81" y2="628.75" stroke="#999" stroke-width="1.3" stroke-dasharray="3 2.7" stroke-dashoffset="1"/>
<line x1="325.29" y1="523.8" x2="325.29" y2="628.75" stroke="#222" stroke-width="0.8" stroke-dasharray="3 2.7" stroke-dashoffset="1"/>
<line x1="349.39" y1="523.8" x2="349.39" y2="628.75" stroke="#111" stroke-width="0.9" stroke-dasharray="3 2.7" stroke-dashoffset="1"/>
<line x1="256.8" y1="592.4" x2="431.8" y2="592.4" stroke="#111" stroke-width="0.95"/>
<path d="M263.1,592.4 L265.2,591.13 L267.3,589.88 L269.4,588.69 L271.51,587.56 L273.61,586.52 L275.71,585.6 L277.81,584.8 L279.91,584.16 L282.01,583.67 L284.11,583.34 L286.21,583.12 L288.32,582.99 L290.42,582.93 L292.52,582.94 L294.62,583 L296.72,583.14 L298.82,583.33 L300.92,583.59 L303.02,583.9 L305.13,584.25 L307.23,584.61 L309.33,584.99 L311.43,585.37 L313.53,585.74 L315.63,586.1 L317.73,586.45 L319.83,586.78 L321.94,587.08 L324.04,587.36 L326.14,587.61 L328.24,587.82 L330.34,588.01 L332.44,588.15 L334.54,588.26 L336.64,588.32 L338.75,588.32 L340.85,588.27 L342.95,588.14 L345.05,587.94 L347.15,587.63 L349.25,587.2 L351.35,586.64 L353.45,585.95 L355.56,585.15 L357.66,584.25 L359.76,583.27 L361.86,582.22 L363.96,581.1 L366.06,579.91 L368.16,578.65 L370.26,577.33 L372.37,575.94 L374.47,574.52 L376.57,573.08 L378.67,571.65 L380.77,570.25 L382.87,568.87 L384.97,567.51 L387.08,566.16" fill="none" stroke="#3f5b9b" stroke-width="1.9" stroke-linecap="round" stroke-linejoin="round" clip-path="url(#cd1)"/>
<path d="M256.8,523.8 V628.75 H431.8" fill="none" stroke="#222" stroke-width="0.9"/>
<path d="M256.8,592.4 h-2.6 M256.8,575.25 h-2.6 M256.8,558.1 h-2.6 M256.8,540.95 h-2.6 M256.8,523.8 h-2.6 M263.1,628.75 v2.2 M285.6,628.75 v2.2 M308.1,628.75 v2.2 M330.6,628.75 v2.2 M353.1,628.75 v2.2 M375.6,628.75 v2.2 M398.1,628.75 v2.2 M420.6,628.75 v2.2" fill="none" stroke="#222" stroke-width="0.8"/>
<text transform="translate(251.2,592.4) rotate(-90) scale(.1)" class="tk">1.0</text>
<text transform="translate(251.2,575.25) rotate(-90) scale(.1)" class="tk">1.2</text>
<text transform="translate(251.2,558.1) rotate(-90) scale(.1)" class="tk">1.4</text>
<text transform="translate(251.2,540.95) rotate(-90) scale(.1)" class="tk">1.6</text>
<text transform="translate(251.2,523.8) rotate(-90) scale(.1)" class="tk">1.8</text>
<text transform="translate(263.1,636.8) scale(.1)" class="tk">0</text>
<text transform="translate(285.6,636.8) scale(.1)" class="tk">1</text>
<text transform="translate(308.1,636.8) scale(.1)" class="tk">2</text>
<text transform="translate(330.6,636.8) scale(.1)" class="tk">3</text>
<text transform="translate(353.1,636.8) scale(.1)" class="tk">4</text>
<text transform="translate(375.6,636.8) scale(.1)" class="tk">5</text>
<text transform="translate(398.1,636.8) scale(.1)" class="tk">6</text>
<text transform="translate(420.6,636.8) scale(.1)" class="tk">7</text>
<text transform="translate(318.7,645.8) scale(.1)" class="al" textLength="510" lengthAdjust="spacingAndGlyphs">CEHWI (°C)</text>
<path d="M431.3,626.7 V601.2 M431.3,626.7 h2.4 M431.3,613.95 h2.4 M431.3,601.2 h2.4" fill="none" stroke="#999" stroke-width="0.8"/>
<text transform="translate(436.2,629.7) scale(.1)" class="fr">0</text>
<text transform="translate(436.2,616.95) scale(.1)" class="fr">20</text>
<text transform="translate(436.2,604.2) scale(.1)" class="fr">40</text>
</g>
<g id="p-d3">
<clipPath id="cd2"><rect x="482.4" y="523.8" width="175" height="104.95"/></clipPath>
<path d="M488.7,592.4 L491.45,590.34 L494.19,588.37 L496.94,586.49 L499.68,584.7 L502.43,582.99 L505.17,581.31 L507.92,579.74 L510.67,578.34 L513.41,577.14 L516.16,576 L518.9,575.03 L521.65,574.33 L524.39,573.86 L527.14,573.44 L529.89,573.12 L532.63,572.95 L535.38,572.99 L538.12,573.29 L540.87,573.81 L543.62,574.49 L546.36,575.29 L549.11,576.81 L551.85,578.95 L554.6,581.22 L557.34,583.24 L560.09,585.45 L562.84,587.58 L565.58,589.12 L568.33,589.79 L571.07,590.26 L573.82,590.57 L576.56,590.68 L579.31,590.36 L582.06,589.53 L584.8,588.36 L587.55,586.99 L590.29,584.99 L593.04,582.08 L595.78,578.91 L598.53,575.54 L601.28,571.8 L604.02,567.78 L606.77,563.48 L609.51,558.98 L612.26,554.42 L615.01,549.37 L617.75,543.05 L620.5,535.17 L623.24,526.59 L625.99,523.8 L628.73,523.8 L631.48,523.8 L634.23,523.8 L636.97,523.8 L639.72,523.8 L642.46,523.8 L645.21,523.8 L647.95,523.8 L650.7,523.8 L650.7,569.25 L647.95,570.23 L645.21,571.18 L642.46,572.1 L639.72,572.95 L636.97,573.78 L634.23,574.65 L631.48,575.62 L628.73,576.73 L625.99,577.9 L623.24,579.02 L620.5,580.12 L617.75,581.23 L615.01,582.37 L612.26,583.54 L609.51,584.73 L606.77,585.94 L604.02,587.16 L601.28,588.42 L598.53,589.76 L595.78,591.07 L593.04,592.19 L590.29,593.23 L587.55,594.31 L584.8,595.47 L582.06,596.67 L579.31,597.88 L576.56,599.06 L573.82,600.21 L571.07,601.39 L568.33,602.67 L565.58,604.12 L562.84,605.77 L560.09,607.6 L557.34,609.56 L554.6,611.75 L551.85,614.42 L549.11,616.9 L546.36,618.53 L543.62,619.79 L540.87,620.72 L538.12,621.04 L535.38,620.83 L532.63,620.38 L529.89,619.85 L527.14,619.16 L524.39,618.24 L521.65,617.16 L518.9,615.96 L516.16,614.56 L513.41,612.85 L510.67,610.98 L507.92,609.05 L505.17,606.96 L502.43,604.78 L499.68,602.66 L496.94,600.51 L494.19,598.06 L491.45,595.36 L488.7,592.4Z" fill="#d9d9d9" clip-path="url(#cd2)"/>
<g fill="#f2f2f2" stroke="#000" stroke-width="0.8"><rect x="514.29" y="621.8" width="8.53" height="6.6"/><rect x="522.82" y="618.9" width="8.53" height="9.5"/><rect x="539.88" y="615.3" width="8.53" height="13.1"/><rect x="548.41" y="606.3" width="8.53" height="22.1"/><rect x="556.94" y="603.7" width="8.53" height="24.7"/><rect x="565.47" y="603.4" width="8.53" height="25"/><rect x="574" y="600.8" width="8.53" height="27.6"/><rect x="582.53" y="603.7" width="8.53" height="24.7"/><rect x="591.06" y="611.3" width="8.53" height="17.1"/><rect x="599.59" y="608.4" width="8.53" height="20"/><rect x="608.12" y="612.1" width="8.53" height="16.3"/><rect x="616.65" y="617.1" width="8.53" height="11.3"/><rect x="625.18" y="623.3" width="8.53" height="5.1"/><rect x="633.71" y="621.8" width="8.53" height="6.6"/><rect x="642.24" y="623.3" width="8.53" height="5.1"/></g>
<g fill="#f2f2f2" stroke="#111" stroke-width="0.6"><rect x="488.7" y="625.9" width="8.53" height="2.5"/><rect x="497.23" y="626.2" width="8.53" height="2.2"/><rect x="505.76" y="626.2" width="8.53" height="2.2"/><rect x="531.35" y="625.9" width="8.53" height="2.5"/></g>
<line x1="559.35" y1="523.8" x2="559.35" y2="628.75" stroke="#222" stroke-width="0.8" stroke-dasharray="3 2.7" stroke-dashoffset="1"/>
<line x1="600.08" y1="523.8" x2="600.08" y2="628.75" stroke="#999" stroke-width="1.3" stroke-dasharray="3 2.7" stroke-dashoffset="1"/>
<line x1="616.16" y1="523.8" x2="616.16" y2="628.75" stroke="#555" stroke-width="1.3" stroke-dasharray="3 2.7" stroke-dashoffset="1"/>
<line x1="482.4" y1="592.4" x2="657.4" y2="592.4" stroke="#111" stroke-width="0.95"/>
<path d="M488.7,592.4 L491.45,593.14 L494.19,593.88 L496.94,594.58 L499.68,595.25 L502.43,595.87 L505.17,596.44 L507.92,596.97 L510.67,597.47 L513.41,597.96 L516.16,598.42 L518.9,598.85 L521.65,599.22 L524.39,599.52 L527.14,599.77 L529.89,599.99 L532.63,600.2 L535.38,600.43 L538.12,600.65 L540.87,600.86 L543.62,601 L546.36,601.07 L549.11,601.03 L551.85,600.9 L554.6,600.7 L557.34,600.43 L560.09,600.1 L562.84,599.7 L565.58,599.23 L568.33,598.68 L571.07,598.02 L573.82,597.26 L576.56,596.37 L579.31,595.33 L582.06,594.13 L584.8,592.76 L587.55,591.21 L590.29,589.45 L593.04,587.53 L595.78,585.47 L598.53,583.29 L601.28,581.02 L604.02,578.62 L606.77,576.07 L609.51,573.33 L612.26,570.38 L615.01,567.24 L617.75,563.92 L620.5,560.43 L623.24,556.74 L625.99,552.84 L628.73,548.76 L631.48,544.55 L634.23,540.28 L636.97,535.85 L639.72,531.09 L642.46,525.88 L645.21,520.27 L647.95,514.39 L650.7,508.36" fill="none" stroke="#3f5b9b" stroke-width="1.9" stroke-linecap="round" stroke-linejoin="round" clip-path="url(#cd2)"/>
<path d="M482.4,523.8 V628.75 H657.4" fill="none" stroke="#222" stroke-width="0.9"/>
<path d="M482.4,592.4 h-2.6 M482.4,575.25 h-2.6 M482.4,558.1 h-2.6 M482.4,540.95 h-2.6 M482.4,523.8 h-2.6 M488.7,628.75 v2.2 M511.2,628.75 v2.2 M533.7,628.75 v2.2 M556.2,628.75 v2.2 M578.7,628.75 v2.2 M601.2,628.75 v2.2 M623.7,628.75 v2.2 M646.2,628.75 v2.2" fill="none" stroke="#222" stroke-width="0.8"/>
<text transform="translate(476.8,592.4) rotate(-90) scale(.1)" class="tk">1.0</text>
<text transform="translate(476.8,575.25) rotate(-90) scale(.1)" class="tk">1.2</text>
<text transform="translate(476.8,558.1) rotate(-90) scale(.1)" class="tk">1.4</text>
<text transform="translate(476.8,540.95) rotate(-90) scale(.1)" class="tk">1.6</text>
<text transform="translate(476.8,523.8) rotate(-90) scale(.1)" class="tk">1.8</text>
<text transform="translate(488.7,636.8) scale(.1)" class="tk">0</text>
<text transform="translate(511.2,636.8) scale(.1)" class="tk">1</text>
<text transform="translate(533.7,636.8) scale(.1)" class="tk">2</text>
<text transform="translate(556.2,636.8) scale(.1)" class="tk">3</text>
<text transform="translate(578.7,636.8) scale(.1)" class="tk">4</text>
<text transform="translate(601.2,636.8) scale(.1)" class="tk">5</text>
<text transform="translate(623.7,636.8) scale(.1)" class="tk">6</text>
<text transform="translate(646.2,636.8) scale(.1)" class="tk">7</text>
<text transform="translate(544.3,645.8) scale(.1)" class="al" textLength="510" lengthAdjust="spacingAndGlyphs">CEHWI (°C)</text>
<path d="M656.9,626.7 V601.2 M656.9,626.7 h2.4 M656.9,613.95 h2.4 M656.9,601.2 h2.4" fill="none" stroke="#aaa" stroke-width="0.8"/>
<text transform="translate(661.7,629.7) scale(.1)" class="fr">0</text>
<text transform="translate(661.7,616.95) scale(.1)" class="fr">20</text>
<text transform="translate(661.7,604.2) scale(.1)" class="fr">40</text>
</g>
</g>
</svg>
</body></html>
